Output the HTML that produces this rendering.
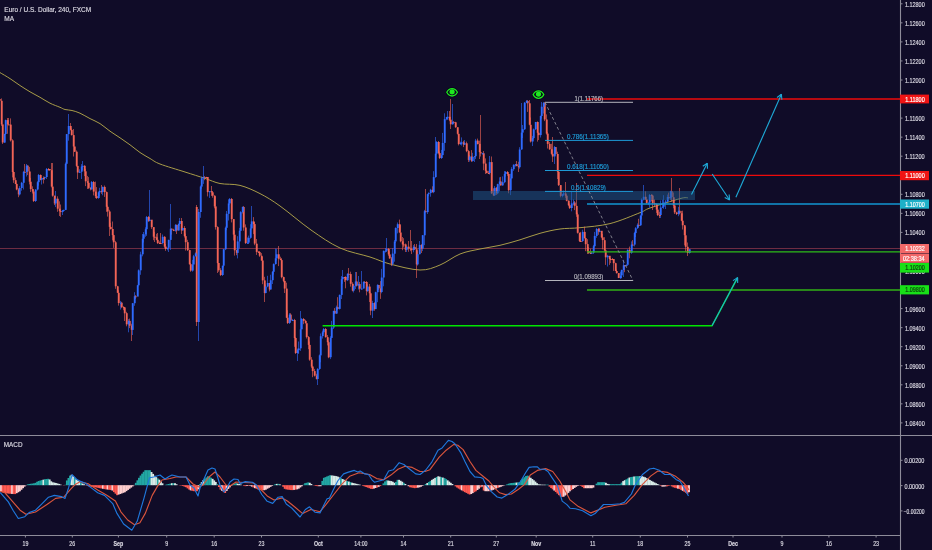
<!DOCTYPE html>
<html><head><meta charset="utf-8"><style>html,body{margin:0;padding:0;background:#100c28;overflow:hidden;width:932px;height:550px}svg{display:block;will-change:transform}</style></head>
<body><svg width="932" height="550" viewBox="0 0 932 550"><rect x="0" y="0" width="932" height="550" fill="#100c28"/>
<line x1="0" y1="248.5" x2="900" y2="248.5" stroke="#6e2c42" stroke-width="1"/>
<path fill="none" stroke="#a89c48" stroke-width="1" d="M0,72.6 C1.67,73.60 6.67,76.45 10,78.6 C13.33,80.75 16.67,83.30 20,85.5 C23.33,87.70 26.67,89.83 30,91.8 C33.33,93.77 36.67,95.40 40,97.3 C43.33,99.20 46.67,101.53 50,103.2 C53.33,104.87 57.50,106.25 60,107.3 C62.50,108.35 63.00,108.97 65,109.5 C67.00,110.03 69.50,109.88 72,110.5 C74.50,111.12 77.00,111.85 80,113.2 C83.00,114.55 86.67,116.87 90,118.6 C93.33,120.33 96.67,121.50 100,123.6 C103.33,125.70 106.67,128.83 110,131.2 C113.33,133.57 116.67,135.53 120,137.8 C123.33,140.07 126.67,142.35 130,144.8 C133.33,147.25 136.67,150.22 140,152.5 C143.33,154.78 146.67,156.58 150,158.5 C153.33,160.42 154.17,161.75 160,164 C165.83,166.25 177.50,169.60 185,172 C192.50,174.40 199.17,176.48 205,178.4 C210.83,180.32 214.17,182.33 220,183.5 C225.83,184.67 233.33,183.72 240,185.4 C246.67,187.08 253.33,190.17 260,193.6 C266.67,197.03 271.50,199.93 280,206 C288.50,212.07 301.00,223.00 311,230 C321.00,237.00 330.17,243.50 340,248 C349.83,252.50 361.67,254.33 370,257 C378.33,259.67 381.67,261.83 390,264 C398.33,266.17 411.67,269.83 420,270 C428.33,270.17 433.33,267.67 440,265 C446.67,262.33 453.33,256.67 460,254 C466.67,251.33 473.33,250.45 480,249 C486.67,247.55 493.33,246.83 500,245.3 C506.67,243.77 513.33,241.80 520,239.8 C526.67,237.80 533.33,235.10 540,233.3 C546.67,231.50 553.33,229.93 560,229 C566.67,228.07 571.67,228.60 580,227.7 C588.33,226.80 600.00,226.10 610,223.6 C620.00,221.10 633.33,215.30 640,212.7 C646.67,210.10 643.33,210.35 650,208 C656.67,205.65 673.67,200.30 680,198.6 C686.33,196.90 686.67,197.93 688,197.8"/>
<line x1="-0.5" y1="98.0" x2="-0.5" y2="101.1" stroke="#f26456" stroke-opacity="0.62" stroke-width="1"/>
<line x1="1.5" y1="98.4" x2="1.5" y2="125.9" stroke="#f26456" stroke-opacity="0.62" stroke-width="1"/>
<line x1="2.5" y1="124.3" x2="2.5" y2="144.0" stroke="#f26456" stroke-opacity="0.62" stroke-width="1"/>
<line x1="4.5" y1="133.7" x2="4.5" y2="142.8" stroke="#2f6bff" stroke-opacity="0.62" stroke-width="1"/>
<line x1="5.5" y1="119.6" x2="5.5" y2="134.8" stroke="#2f6bff" stroke-opacity="0.62" stroke-width="1"/>
<line x1="7.5" y1="118.0" x2="7.5" y2="133.8" stroke="#f26456" stroke-opacity="0.62" stroke-width="1"/>
<line x1="8.5" y1="118.0" x2="8.5" y2="124.8" stroke="#f26456" stroke-opacity="0.62" stroke-width="1"/>
<line x1="10.5" y1="118.4" x2="10.5" y2="141.5" stroke="#f26456" stroke-opacity="0.62" stroke-width="1"/>
<line x1="12.5" y1="139.2" x2="12.5" y2="177.4" stroke="#f26456" stroke-opacity="0.62" stroke-width="1"/>
<line x1="13.5" y1="171.3" x2="13.5" y2="182.9" stroke="#f26456" stroke-opacity="0.62" stroke-width="1"/>
<line x1="15.5" y1="177.6" x2="15.5" y2="184.1" stroke="#f26456" stroke-opacity="0.62" stroke-width="1"/>
<line x1="16.5" y1="183.7" x2="16.5" y2="190.3" stroke="#f26456" stroke-opacity="0.62" stroke-width="1"/>
<line x1="18.5" y1="188.3" x2="18.5" y2="197.2" stroke="#f26456" stroke-opacity="0.62" stroke-width="1"/>
<line x1="19.5" y1="186.1" x2="19.5" y2="195.5" stroke="#2f6bff" stroke-opacity="0.62" stroke-width="1"/>
<line x1="21.5" y1="181.9" x2="21.5" y2="190.7" stroke="#2f6bff" stroke-opacity="0.62" stroke-width="1"/>
<line x1="23.5" y1="170.9" x2="23.5" y2="189.5" stroke="#2f6bff" stroke-opacity="0.62" stroke-width="1"/>
<line x1="24.5" y1="164.0" x2="24.5" y2="172.4" stroke="#f26456" stroke-opacity="0.62" stroke-width="1"/>
<line x1="26.5" y1="164.0" x2="26.5" y2="176.5" stroke="#2f6bff" stroke-opacity="0.62" stroke-width="1"/>
<line x1="27.5" y1="165.5" x2="27.5" y2="175.1" stroke="#f26456" stroke-opacity="0.62" stroke-width="1"/>
<line x1="29.5" y1="166.9" x2="29.5" y2="184.4" stroke="#f26456" stroke-opacity="0.62" stroke-width="1"/>
<line x1="30.5" y1="177.9" x2="30.5" y2="192.0" stroke="#f26456" stroke-opacity="0.62" stroke-width="1"/>
<line x1="32.5" y1="186.3" x2="32.5" y2="193.5" stroke="#f26456" stroke-opacity="0.62" stroke-width="1"/>
<line x1="33.5" y1="189.5" x2="33.5" y2="202.0" stroke="#f26456" stroke-opacity="0.62" stroke-width="1"/>
<line x1="35.5" y1="189.3" x2="35.5" y2="202.0" stroke="#2f6bff" stroke-opacity="0.62" stroke-width="1"/>
<line x1="37.5" y1="181.2" x2="37.5" y2="190.5" stroke="#2f6bff" stroke-opacity="0.62" stroke-width="1"/>
<line x1="38.5" y1="174.0" x2="38.5" y2="185.7" stroke="#2f6bff" stroke-opacity="0.62" stroke-width="1"/>
<line x1="40.5" y1="174.4" x2="40.5" y2="180.3" stroke="#f26456" stroke-opacity="0.62" stroke-width="1"/>
<line x1="41.5" y1="177.8" x2="41.5" y2="184.5" stroke="#2f6bff" stroke-opacity="0.62" stroke-width="1"/>
<line x1="43.5" y1="176.4" x2="43.5" y2="183.5" stroke="#f26456" stroke-opacity="0.62" stroke-width="1"/>
<line x1="44.5" y1="176.7" x2="44.5" y2="180.0" stroke="#2f6bff" stroke-opacity="0.62" stroke-width="1"/>
<line x1="46.5" y1="168.0" x2="46.5" y2="179.0" stroke="#2f6bff" stroke-opacity="0.62" stroke-width="1"/>
<line x1="48.5" y1="168.0" x2="48.5" y2="170.7" stroke="#f26456" stroke-opacity="0.62" stroke-width="1"/>
<line x1="49.5" y1="169.2" x2="49.5" y2="170.8" stroke="#f26456" stroke-opacity="0.62" stroke-width="1"/>
<line x1="51.5" y1="163.0" x2="51.5" y2="187.4" stroke="#f26456" stroke-opacity="0.62" stroke-width="1"/>
<line x1="52.5" y1="163.0" x2="52.5" y2="196.7" stroke="#f26456" stroke-opacity="0.62" stroke-width="1"/>
<line x1="54.5" y1="195.7" x2="54.5" y2="205.1" stroke="#f26456" stroke-opacity="0.62" stroke-width="1"/>
<line x1="55.5" y1="191.0" x2="55.5" y2="207.1" stroke="#2f6bff" stroke-opacity="0.62" stroke-width="1"/>
<line x1="57.5" y1="196.3" x2="57.5" y2="211.8" stroke="#f26456" stroke-opacity="0.62" stroke-width="1"/>
<line x1="59.5" y1="201.3" x2="59.5" y2="216.0" stroke="#f26456" stroke-opacity="0.62" stroke-width="1"/>
<line x1="60.5" y1="204.5" x2="60.5" y2="216.9" stroke="#f26456" stroke-opacity="0.62" stroke-width="1"/>
<line x1="62.5" y1="210.0" x2="62.5" y2="215.0" stroke="#2f6bff" stroke-opacity="0.62" stroke-width="1"/>
<line x1="63.5" y1="209.7" x2="63.5" y2="210.6" stroke="#2f6bff" stroke-opacity="0.62" stroke-width="1"/>
<line x1="65.5" y1="162.5" x2="65.5" y2="210.1" stroke="#2f6bff" stroke-opacity="0.62" stroke-width="1"/>
<line x1="66.5" y1="134.1" x2="66.5" y2="164.3" stroke="#2f6bff" stroke-opacity="0.62" stroke-width="1"/>
<line x1="68.5" y1="114.0" x2="68.5" y2="140.7" stroke="#2f6bff" stroke-opacity="0.62" stroke-width="1"/>
<line x1="70.5" y1="123.0" x2="70.5" y2="130.4" stroke="#f26456" stroke-opacity="0.62" stroke-width="1"/>
<line x1="71.5" y1="128.5" x2="71.5" y2="135.5" stroke="#f26456" stroke-opacity="0.62" stroke-width="1"/>
<line x1="73.5" y1="129.0" x2="73.5" y2="156.5" stroke="#f26456" stroke-opacity="0.62" stroke-width="1"/>
<line x1="74.5" y1="146.2" x2="74.5" y2="152.0" stroke="#f26456" stroke-opacity="0.62" stroke-width="1"/>
<line x1="76.5" y1="150.4" x2="76.5" y2="166.8" stroke="#f26456" stroke-opacity="0.62" stroke-width="1"/>
<line x1="77.5" y1="165.8" x2="77.5" y2="179.0" stroke="#f26456" stroke-opacity="0.62" stroke-width="1"/>
<line x1="79.5" y1="169.3" x2="79.5" y2="172.9" stroke="#2f6bff" stroke-opacity="0.62" stroke-width="1"/>
<line x1="81.5" y1="164.1" x2="81.5" y2="179.0" stroke="#2f6bff" stroke-opacity="0.62" stroke-width="1"/>
<line x1="82.5" y1="161.0" x2="82.5" y2="170.3" stroke="#2f6bff" stroke-opacity="0.62" stroke-width="1"/>
<line x1="84.5" y1="165.2" x2="84.5" y2="176.1" stroke="#f26456" stroke-opacity="0.62" stroke-width="1"/>
<line x1="85.5" y1="168.9" x2="85.5" y2="186.1" stroke="#f26456" stroke-opacity="0.62" stroke-width="1"/>
<line x1="87.5" y1="175.9" x2="87.5" y2="189.0" stroke="#f26456" stroke-opacity="0.62" stroke-width="1"/>
<line x1="88.5" y1="177.1" x2="88.5" y2="189.0" stroke="#f26456" stroke-opacity="0.62" stroke-width="1"/>
<line x1="90.5" y1="187.1" x2="90.5" y2="190.4" stroke="#f26456" stroke-opacity="0.62" stroke-width="1"/>
<line x1="91.5" y1="181.0" x2="91.5" y2="189.4" stroke="#2f6bff" stroke-opacity="0.62" stroke-width="1"/>
<line x1="93.5" y1="181.0" x2="93.5" y2="195.4" stroke="#f26456" stroke-opacity="0.62" stroke-width="1"/>
<line x1="95.5" y1="181.6" x2="95.5" y2="198.1" stroke="#f26456" stroke-opacity="0.62" stroke-width="1"/>
<line x1="96.5" y1="187.1" x2="96.5" y2="199.0" stroke="#f26456" stroke-opacity="0.62" stroke-width="1"/>
<line x1="98.5" y1="191.5" x2="98.5" y2="198.8" stroke="#2f6bff" stroke-opacity="0.62" stroke-width="1"/>
<line x1="99.5" y1="187.8" x2="99.5" y2="196.2" stroke="#2f6bff" stroke-opacity="0.62" stroke-width="1"/>
<line x1="101.5" y1="185.0" x2="101.5" y2="193.9" stroke="#f26456" stroke-opacity="0.62" stroke-width="1"/>
<line x1="102.5" y1="186.6" x2="102.5" y2="195.3" stroke="#2f6bff" stroke-opacity="0.62" stroke-width="1"/>
<line x1="104.5" y1="185.5" x2="104.5" y2="196.9" stroke="#f26456" stroke-opacity="0.62" stroke-width="1"/>
<line x1="106.5" y1="191.4" x2="106.5" y2="211.8" stroke="#f26456" stroke-opacity="0.62" stroke-width="1"/>
<line x1="107.5" y1="205.5" x2="107.5" y2="216.6" stroke="#f26456" stroke-opacity="0.62" stroke-width="1"/>
<line x1="109.5" y1="209.8" x2="109.5" y2="236.0" stroke="#f26456" stroke-opacity="0.62" stroke-width="1"/>
<line x1="110.5" y1="222.8" x2="110.5" y2="229.6" stroke="#f26456" stroke-opacity="0.62" stroke-width="1"/>
<line x1="112.5" y1="221.5" x2="112.5" y2="240.4" stroke="#f26456" stroke-opacity="0.62" stroke-width="1"/>
<line x1="113.5" y1="234.6" x2="113.5" y2="247.9" stroke="#f26456" stroke-opacity="0.62" stroke-width="1"/>
<line x1="115.5" y1="240.9" x2="115.5" y2="288.8" stroke="#f26456" stroke-opacity="0.62" stroke-width="1"/>
<line x1="117.5" y1="285.8" x2="117.5" y2="292.9" stroke="#f26456" stroke-opacity="0.62" stroke-width="1"/>
<line x1="118.5" y1="290.4" x2="118.5" y2="305.6" stroke="#f26456" stroke-opacity="0.62" stroke-width="1"/>
<line x1="120.5" y1="300.9" x2="120.5" y2="309.6" stroke="#2f6bff" stroke-opacity="0.62" stroke-width="1"/>
<line x1="121.5" y1="301.8" x2="121.5" y2="308.2" stroke="#f26456" stroke-opacity="0.62" stroke-width="1"/>
<line x1="123.5" y1="306.2" x2="123.5" y2="310.2" stroke="#f26456" stroke-opacity="0.62" stroke-width="1"/>
<line x1="124.5" y1="306.9" x2="124.5" y2="321.0" stroke="#f26456" stroke-opacity="0.62" stroke-width="1"/>
<line x1="126.5" y1="311.8" x2="126.5" y2="326.3" stroke="#f26456" stroke-opacity="0.62" stroke-width="1"/>
<line x1="128.5" y1="319.1" x2="128.5" y2="332.3" stroke="#2f6bff" stroke-opacity="0.62" stroke-width="1"/>
<line x1="129.5" y1="318.6" x2="129.5" y2="328.1" stroke="#f26456" stroke-opacity="0.62" stroke-width="1"/>
<line x1="131.5" y1="323.8" x2="131.5" y2="341.0" stroke="#f26456" stroke-opacity="0.62" stroke-width="1"/>
<line x1="132.5" y1="303.2" x2="132.5" y2="335.0" stroke="#2f6bff" stroke-opacity="0.62" stroke-width="1"/>
<line x1="134.5" y1="292.2" x2="134.5" y2="305.8" stroke="#2f6bff" stroke-opacity="0.62" stroke-width="1"/>
<line x1="135.5" y1="295.1" x2="135.5" y2="298.9" stroke="#f26456" stroke-opacity="0.62" stroke-width="1"/>
<line x1="137.5" y1="284.9" x2="137.5" y2="296.0" stroke="#2f6bff" stroke-opacity="0.62" stroke-width="1"/>
<line x1="138.5" y1="269.4" x2="138.5" y2="286.3" stroke="#2f6bff" stroke-opacity="0.62" stroke-width="1"/>
<line x1="140.5" y1="251.7" x2="140.5" y2="274.8" stroke="#2f6bff" stroke-opacity="0.62" stroke-width="1"/>
<line x1="142.5" y1="234.0" x2="142.5" y2="256.3" stroke="#2f6bff" stroke-opacity="0.62" stroke-width="1"/>
<line x1="143.5" y1="232.0" x2="143.5" y2="242.5" stroke="#2f6bff" stroke-opacity="0.62" stroke-width="1"/>
<line x1="145.5" y1="227.3" x2="145.5" y2="236.8" stroke="#2f6bff" stroke-opacity="0.62" stroke-width="1"/>
<line x1="146.5" y1="216.0" x2="146.5" y2="235.9" stroke="#2f6bff" stroke-opacity="0.62" stroke-width="1"/>
<line x1="148.5" y1="216.0" x2="148.5" y2="221.9" stroke="#f26456" stroke-opacity="0.62" stroke-width="1"/>
<line x1="149.5" y1="190.0" x2="149.5" y2="221.4" stroke="#2f6bff" stroke-opacity="0.62" stroke-width="1"/>
<line x1="151.5" y1="226.1" x2="151.5" y2="228.9" stroke="#f26456" stroke-opacity="0.62" stroke-width="1"/>
<line x1="153.5" y1="228.0" x2="153.5" y2="240.2" stroke="#f26456" stroke-opacity="0.62" stroke-width="1"/>
<line x1="154.5" y1="231.8" x2="154.5" y2="242.0" stroke="#f26456" stroke-opacity="0.62" stroke-width="1"/>
<line x1="156.5" y1="233.8" x2="156.5" y2="240.3" stroke="#f26456" stroke-opacity="0.62" stroke-width="1"/>
<line x1="157.5" y1="233.0" x2="157.5" y2="244.0" stroke="#f26456" stroke-opacity="0.62" stroke-width="1"/>
<line x1="159.5" y1="241.4" x2="159.5" y2="244.0" stroke="#f26456" stroke-opacity="0.62" stroke-width="1"/>
<line x1="160.5" y1="233.0" x2="160.5" y2="244.0" stroke="#f26456" stroke-opacity="0.62" stroke-width="1"/>
<line x1="162.5" y1="234.5" x2="162.5" y2="244.3" stroke="#2f6bff" stroke-opacity="0.62" stroke-width="1"/>
<line x1="164.5" y1="236.1" x2="164.5" y2="247.8" stroke="#f26456" stroke-opacity="0.62" stroke-width="1"/>
<line x1="165.5" y1="244.0" x2="165.5" y2="250.9" stroke="#f26456" stroke-opacity="0.62" stroke-width="1"/>
<line x1="167.5" y1="247.8" x2="167.5" y2="250.3" stroke="#2f6bff" stroke-opacity="0.62" stroke-width="1"/>
<line x1="168.5" y1="239.7" x2="168.5" y2="252.0" stroke="#2f6bff" stroke-opacity="0.62" stroke-width="1"/>
<line x1="170.5" y1="204.0" x2="170.5" y2="249.9" stroke="#2f6bff" stroke-opacity="0.62" stroke-width="1"/>
<line x1="171.5" y1="228.6" x2="171.5" y2="234.6" stroke="#f26456" stroke-opacity="0.62" stroke-width="1"/>
<line x1="173.5" y1="228.8" x2="173.5" y2="231.1" stroke="#f26456" stroke-opacity="0.62" stroke-width="1"/>
<line x1="175.5" y1="224.0" x2="175.5" y2="231.7" stroke="#2f6bff" stroke-opacity="0.62" stroke-width="1"/>
<line x1="176.5" y1="224.5" x2="176.5" y2="234.0" stroke="#f26456" stroke-opacity="0.62" stroke-width="1"/>
<line x1="178.5" y1="223.6" x2="178.5" y2="230.7" stroke="#2f6bff" stroke-opacity="0.62" stroke-width="1"/>
<line x1="179.5" y1="218.0" x2="179.5" y2="225.7" stroke="#2f6bff" stroke-opacity="0.62" stroke-width="1"/>
<line x1="181.5" y1="218.0" x2="181.5" y2="234.0" stroke="#f26456" stroke-opacity="0.62" stroke-width="1"/>
<line x1="182.5" y1="227.7" x2="182.5" y2="229.0" stroke="#2f6bff" stroke-opacity="0.62" stroke-width="1"/>
<line x1="184.5" y1="226.1" x2="184.5" y2="237.5" stroke="#f26456" stroke-opacity="0.62" stroke-width="1"/>
<line x1="185.5" y1="233.6" x2="185.5" y2="250.6" stroke="#f26456" stroke-opacity="0.62" stroke-width="1"/>
<line x1="187.5" y1="239.8" x2="187.5" y2="251.0" stroke="#f26456" stroke-opacity="0.62" stroke-width="1"/>
<line x1="189.5" y1="249.7" x2="189.5" y2="264.7" stroke="#f26456" stroke-opacity="0.62" stroke-width="1"/>
<line x1="190.5" y1="263.0" x2="190.5" y2="271.8" stroke="#f26456" stroke-opacity="0.62" stroke-width="1"/>
<line x1="192.5" y1="259.9" x2="192.5" y2="271.7" stroke="#2f6bff" stroke-opacity="0.62" stroke-width="1"/>
<line x1="193.5" y1="254.9" x2="193.5" y2="264.5" stroke="#2f6bff" stroke-opacity="0.62" stroke-width="1"/>
<line x1="195.5" y1="252.4" x2="195.5" y2="256.3" stroke="#2f6bff" stroke-opacity="0.62" stroke-width="1"/>
<line x1="196.5" y1="205.0" x2="196.5" y2="326.0" stroke="#f26456" stroke-opacity="0.62" stroke-width="1"/>
<line x1="198.5" y1="209.0" x2="198.5" y2="341.0" stroke="#2f6bff" stroke-opacity="0.62" stroke-width="1"/>
<line x1="200.5" y1="185.5" x2="200.5" y2="217.8" stroke="#2f6bff" stroke-opacity="0.62" stroke-width="1"/>
<line x1="201.5" y1="176.6" x2="201.5" y2="188.8" stroke="#2f6bff" stroke-opacity="0.62" stroke-width="1"/>
<line x1="203.5" y1="166.0" x2="203.5" y2="183.9" stroke="#2f6bff" stroke-opacity="0.62" stroke-width="1"/>
<line x1="204.5" y1="176.0" x2="204.5" y2="180.2" stroke="#f26456" stroke-opacity="0.62" stroke-width="1"/>
<line x1="206.5" y1="176.8" x2="206.5" y2="177.4" stroke="#f26456" stroke-opacity="0.62" stroke-width="1"/>
<line x1="207.5" y1="180.8" x2="207.5" y2="196.4" stroke="#f26456" stroke-opacity="0.62" stroke-width="1"/>
<line x1="209.5" y1="191.0" x2="209.5" y2="197.9" stroke="#2f6bff" stroke-opacity="0.62" stroke-width="1"/>
<line x1="211.5" y1="186.0" x2="211.5" y2="195.9" stroke="#f26456" stroke-opacity="0.62" stroke-width="1"/>
<line x1="212.5" y1="191.2" x2="212.5" y2="197.7" stroke="#f26456" stroke-opacity="0.62" stroke-width="1"/>
<line x1="214.5" y1="195.2" x2="214.5" y2="208.3" stroke="#f26456" stroke-opacity="0.62" stroke-width="1"/>
<line x1="215.5" y1="196.4" x2="215.5" y2="229.6" stroke="#f26456" stroke-opacity="0.62" stroke-width="1"/>
<line x1="217.5" y1="226.2" x2="217.5" y2="273.0" stroke="#f26456" stroke-opacity="0.62" stroke-width="1"/>
<line x1="218.5" y1="263.0" x2="218.5" y2="271.8" stroke="#f26456" stroke-opacity="0.62" stroke-width="1"/>
<line x1="220.5" y1="268.2" x2="220.5" y2="276.0" stroke="#f26456" stroke-opacity="0.62" stroke-width="1"/>
<line x1="222.5" y1="265.7" x2="222.5" y2="276.0" stroke="#2f6bff" stroke-opacity="0.62" stroke-width="1"/>
<line x1="223.5" y1="248.9" x2="223.5" y2="267.4" stroke="#2f6bff" stroke-opacity="0.62" stroke-width="1"/>
<line x1="225.5" y1="226.6" x2="225.5" y2="250.1" stroke="#2f6bff" stroke-opacity="0.62" stroke-width="1"/>
<line x1="226.5" y1="211.0" x2="226.5" y2="230.2" stroke="#2f6bff" stroke-opacity="0.62" stroke-width="1"/>
<line x1="228.5" y1="199.4" x2="228.5" y2="220.5" stroke="#2f6bff" stroke-opacity="0.62" stroke-width="1"/>
<line x1="229.5" y1="198.0" x2="229.5" y2="204.7" stroke="#2f6bff" stroke-opacity="0.62" stroke-width="1"/>
<line x1="231.5" y1="198.0" x2="231.5" y2="222.4" stroke="#f26456" stroke-opacity="0.62" stroke-width="1"/>
<line x1="233.5" y1="219.0" x2="233.5" y2="240.4" stroke="#f26456" stroke-opacity="0.62" stroke-width="1"/>
<line x1="234.5" y1="230.4" x2="234.5" y2="255.6" stroke="#f26456" stroke-opacity="0.62" stroke-width="1"/>
<line x1="236.5" y1="249.8" x2="236.5" y2="255.2" stroke="#f26456" stroke-opacity="0.62" stroke-width="1"/>
<line x1="237.5" y1="236.2" x2="237.5" y2="258.4" stroke="#2f6bff" stroke-opacity="0.62" stroke-width="1"/>
<line x1="239.5" y1="227.9" x2="239.5" y2="248.5" stroke="#2f6bff" stroke-opacity="0.62" stroke-width="1"/>
<line x1="240.5" y1="211.2" x2="240.5" y2="230.8" stroke="#2f6bff" stroke-opacity="0.62" stroke-width="1"/>
<line x1="242.5" y1="206.5" x2="242.5" y2="213.5" stroke="#2f6bff" stroke-opacity="0.62" stroke-width="1"/>
<line x1="243.5" y1="206.0" x2="243.5" y2="230.7" stroke="#f26456" stroke-opacity="0.62" stroke-width="1"/>
<line x1="245.5" y1="224.4" x2="245.5" y2="244.0" stroke="#f26456" stroke-opacity="0.62" stroke-width="1"/>
<line x1="247.5" y1="237.5" x2="247.5" y2="244.0" stroke="#2f6bff" stroke-opacity="0.62" stroke-width="1"/>
<line x1="248.5" y1="235.6" x2="248.5" y2="244.0" stroke="#2f6bff" stroke-opacity="0.62" stroke-width="1"/>
<line x1="250.5" y1="224.2" x2="250.5" y2="238.8" stroke="#2f6bff" stroke-opacity="0.62" stroke-width="1"/>
<line x1="251.5" y1="206.0" x2="251.5" y2="229.4" stroke="#2f6bff" stroke-opacity="0.62" stroke-width="1"/>
<line x1="253.5" y1="217.1" x2="253.5" y2="234.1" stroke="#f26456" stroke-opacity="0.62" stroke-width="1"/>
<line x1="254.5" y1="222.0" x2="254.5" y2="245.2" stroke="#f26456" stroke-opacity="0.62" stroke-width="1"/>
<line x1="256.5" y1="239.0" x2="256.5" y2="254.9" stroke="#f26456" stroke-opacity="0.62" stroke-width="1"/>
<line x1="258.5" y1="251.0" x2="258.5" y2="252.4" stroke="#f26456" stroke-opacity="0.62" stroke-width="1"/>
<line x1="259.5" y1="251.0" x2="259.5" y2="256.9" stroke="#f26456" stroke-opacity="0.62" stroke-width="1"/>
<line x1="261.5" y1="253.1" x2="261.5" y2="260.6" stroke="#f26456" stroke-opacity="0.62" stroke-width="1"/>
<line x1="262.5" y1="257.0" x2="262.5" y2="284.2" stroke="#f26456" stroke-opacity="0.62" stroke-width="1"/>
<line x1="264.5" y1="276.8" x2="264.5" y2="302.0" stroke="#f26456" stroke-opacity="0.62" stroke-width="1"/>
<line x1="265.5" y1="284.5" x2="265.5" y2="293.4" stroke="#2f6bff" stroke-opacity="0.62" stroke-width="1"/>
<line x1="267.5" y1="275.8" x2="267.5" y2="287.3" stroke="#2f6bff" stroke-opacity="0.62" stroke-width="1"/>
<line x1="269.5" y1="282.9" x2="269.5" y2="291.4" stroke="#f26456" stroke-opacity="0.62" stroke-width="1"/>
<line x1="270.5" y1="274.7" x2="270.5" y2="285.3" stroke="#2f6bff" stroke-opacity="0.62" stroke-width="1"/>
<line x1="272.5" y1="271.0" x2="272.5" y2="284.0" stroke="#2f6bff" stroke-opacity="0.62" stroke-width="1"/>
<line x1="273.5" y1="263.4" x2="273.5" y2="274.6" stroke="#2f6bff" stroke-opacity="0.62" stroke-width="1"/>
<line x1="275.5" y1="248.5" x2="275.5" y2="264.6" stroke="#2f6bff" stroke-opacity="0.62" stroke-width="1"/>
<line x1="276.5" y1="248.8" x2="276.5" y2="260.5" stroke="#2f6bff" stroke-opacity="0.62" stroke-width="1"/>
<line x1="278.5" y1="246.0" x2="278.5" y2="266.1" stroke="#f26456" stroke-opacity="0.62" stroke-width="1"/>
<line x1="280.5" y1="256.7" x2="280.5" y2="260.2" stroke="#f26456" stroke-opacity="0.62" stroke-width="1"/>
<line x1="281.5" y1="258.2" x2="281.5" y2="278.3" stroke="#f26456" stroke-opacity="0.62" stroke-width="1"/>
<line x1="283.5" y1="276.6" x2="283.5" y2="282.2" stroke="#f26456" stroke-opacity="0.62" stroke-width="1"/>
<line x1="284.5" y1="280.9" x2="284.5" y2="293.0" stroke="#f26456" stroke-opacity="0.62" stroke-width="1"/>
<line x1="286.5" y1="282.7" x2="286.5" y2="318.1" stroke="#f26456" stroke-opacity="0.62" stroke-width="1"/>
<line x1="287.5" y1="310.3" x2="287.5" y2="324.0" stroke="#f26456" stroke-opacity="0.62" stroke-width="1"/>
<line x1="289.5" y1="313.1" x2="289.5" y2="324.0" stroke="#2f6bff" stroke-opacity="0.62" stroke-width="1"/>
<line x1="290.5" y1="313.2" x2="290.5" y2="322.0" stroke="#f26456" stroke-opacity="0.62" stroke-width="1"/>
<line x1="292.5" y1="318.9" x2="292.5" y2="320.6" stroke="#2f6bff" stroke-opacity="0.62" stroke-width="1"/>
<line x1="294.5" y1="318.9" x2="294.5" y2="346.8" stroke="#f26456" stroke-opacity="0.62" stroke-width="1"/>
<line x1="295.5" y1="337.1" x2="295.5" y2="354.0" stroke="#f26456" stroke-opacity="0.62" stroke-width="1"/>
<line x1="297.5" y1="348.7" x2="297.5" y2="361.0" stroke="#2f6bff" stroke-opacity="0.62" stroke-width="1"/>
<line x1="298.5" y1="341.5" x2="298.5" y2="354.0" stroke="#2f6bff" stroke-opacity="0.62" stroke-width="1"/>
<line x1="300.5" y1="311.0" x2="300.5" y2="350.9" stroke="#2f6bff" stroke-opacity="0.62" stroke-width="1"/>
<line x1="301.5" y1="318.0" x2="301.5" y2="329.5" stroke="#2f6bff" stroke-opacity="0.62" stroke-width="1"/>
<line x1="303.5" y1="318.0" x2="303.5" y2="324.2" stroke="#f26456" stroke-opacity="0.62" stroke-width="1"/>
<line x1="305.5" y1="319.8" x2="305.5" y2="323.4" stroke="#f26456" stroke-opacity="0.62" stroke-width="1"/>
<line x1="306.5" y1="325.1" x2="306.5" y2="338.5" stroke="#f26456" stroke-opacity="0.62" stroke-width="1"/>
<line x1="308.5" y1="336.0" x2="308.5" y2="349.2" stroke="#f26456" stroke-opacity="0.62" stroke-width="1"/>
<line x1="309.5" y1="341.5" x2="309.5" y2="360.8" stroke="#f26456" stroke-opacity="0.62" stroke-width="1"/>
<line x1="311.5" y1="357.1" x2="311.5" y2="368.1" stroke="#f26456" stroke-opacity="0.62" stroke-width="1"/>
<line x1="312.5" y1="365.8" x2="312.5" y2="377.2" stroke="#f26456" stroke-opacity="0.62" stroke-width="1"/>
<line x1="314.5" y1="368.9" x2="314.5" y2="376.5" stroke="#f26456" stroke-opacity="0.62" stroke-width="1"/>
<line x1="316.5" y1="373.8" x2="316.5" y2="379.5" stroke="#f26456" stroke-opacity="0.62" stroke-width="1"/>
<line x1="317.5" y1="368.2" x2="317.5" y2="385.0" stroke="#2f6bff" stroke-opacity="0.62" stroke-width="1"/>
<line x1="319.5" y1="354.5" x2="319.5" y2="369.9" stroke="#2f6bff" stroke-opacity="0.62" stroke-width="1"/>
<line x1="320.5" y1="333.5" x2="320.5" y2="362.3" stroke="#2f6bff" stroke-opacity="0.62" stroke-width="1"/>
<line x1="322.5" y1="330.6" x2="322.5" y2="338.5" stroke="#2f6bff" stroke-opacity="0.62" stroke-width="1"/>
<line x1="323.5" y1="328.0" x2="323.5" y2="333.6" stroke="#2f6bff" stroke-opacity="0.62" stroke-width="1"/>
<line x1="325.5" y1="328.0" x2="325.5" y2="337.6" stroke="#f26456" stroke-opacity="0.62" stroke-width="1"/>
<line x1="327.5" y1="335.0" x2="327.5" y2="345.4" stroke="#f26456" stroke-opacity="0.62" stroke-width="1"/>
<line x1="328.5" y1="341.2" x2="328.5" y2="358.2" stroke="#f26456" stroke-opacity="0.62" stroke-width="1"/>
<line x1="330.5" y1="336.2" x2="330.5" y2="359.1" stroke="#2f6bff" stroke-opacity="0.62" stroke-width="1"/>
<line x1="331.5" y1="320.9" x2="331.5" y2="337.9" stroke="#2f6bff" stroke-opacity="0.62" stroke-width="1"/>
<line x1="333.5" y1="310.8" x2="333.5" y2="329.0" stroke="#2f6bff" stroke-opacity="0.62" stroke-width="1"/>
<line x1="334.5" y1="308.1" x2="334.5" y2="313.6" stroke="#f26456" stroke-opacity="0.62" stroke-width="1"/>
<line x1="336.5" y1="305.6" x2="336.5" y2="314.0" stroke="#2f6bff" stroke-opacity="0.62" stroke-width="1"/>
<line x1="337.5" y1="297.2" x2="337.5" y2="309.8" stroke="#f26456" stroke-opacity="0.62" stroke-width="1"/>
<line x1="339.5" y1="294.5" x2="339.5" y2="309.5" stroke="#2f6bff" stroke-opacity="0.62" stroke-width="1"/>
<line x1="341.5" y1="276.0" x2="341.5" y2="299.0" stroke="#2f6bff" stroke-opacity="0.62" stroke-width="1"/>
<line x1="342.5" y1="270.0" x2="342.5" y2="283.8" stroke="#2f6bff" stroke-opacity="0.62" stroke-width="1"/>
<line x1="344.5" y1="276.9" x2="344.5" y2="281.9" stroke="#f26456" stroke-opacity="0.62" stroke-width="1"/>
<line x1="345.5" y1="276.2" x2="345.5" y2="288.3" stroke="#f26456" stroke-opacity="0.62" stroke-width="1"/>
<line x1="347.5" y1="273.3" x2="347.5" y2="281.1" stroke="#2f6bff" stroke-opacity="0.62" stroke-width="1"/>
<line x1="348.5" y1="268.0" x2="348.5" y2="277.9" stroke="#f26456" stroke-opacity="0.62" stroke-width="1"/>
<line x1="350.5" y1="271.7" x2="350.5" y2="286.6" stroke="#f26456" stroke-opacity="0.62" stroke-width="1"/>
<line x1="352.5" y1="282.2" x2="352.5" y2="291.4" stroke="#f26456" stroke-opacity="0.62" stroke-width="1"/>
<line x1="353.5" y1="284.5" x2="353.5" y2="292.5" stroke="#2f6bff" stroke-opacity="0.62" stroke-width="1"/>
<line x1="355.5" y1="272.0" x2="355.5" y2="289.0" stroke="#2f6bff" stroke-opacity="0.62" stroke-width="1"/>
<line x1="356.5" y1="272.0" x2="356.5" y2="286.5" stroke="#f26456" stroke-opacity="0.62" stroke-width="1"/>
<line x1="358.5" y1="276.0" x2="358.5" y2="289.5" stroke="#2f6bff" stroke-opacity="0.62" stroke-width="1"/>
<line x1="359.5" y1="281.9" x2="359.5" y2="292.3" stroke="#f26456" stroke-opacity="0.62" stroke-width="1"/>
<line x1="361.5" y1="271.0" x2="361.5" y2="289.6" stroke="#2f6bff" stroke-opacity="0.62" stroke-width="1"/>
<line x1="363.5" y1="281.2" x2="363.5" y2="288.6" stroke="#2f6bff" stroke-opacity="0.62" stroke-width="1"/>
<line x1="364.5" y1="281.0" x2="364.5" y2="283.7" stroke="#f26456" stroke-opacity="0.62" stroke-width="1"/>
<line x1="366.5" y1="281.0" x2="366.5" y2="295.4" stroke="#f26456" stroke-opacity="0.62" stroke-width="1"/>
<line x1="367.5" y1="284.3" x2="367.5" y2="291.8" stroke="#2f6bff" stroke-opacity="0.62" stroke-width="1"/>
<line x1="369.5" y1="284.0" x2="369.5" y2="302.0" stroke="#f26456" stroke-opacity="0.62" stroke-width="1"/>
<line x1="370.5" y1="292.5" x2="370.5" y2="315.2" stroke="#f26456" stroke-opacity="0.62" stroke-width="1"/>
<line x1="372.5" y1="300.8" x2="372.5" y2="318.0" stroke="#2f6bff" stroke-opacity="0.62" stroke-width="1"/>
<line x1="374.5" y1="302.2" x2="374.5" y2="310.8" stroke="#f26456" stroke-opacity="0.62" stroke-width="1"/>
<line x1="375.5" y1="291.7" x2="375.5" y2="305.6" stroke="#2f6bff" stroke-opacity="0.62" stroke-width="1"/>
<line x1="377.5" y1="284.2" x2="377.5" y2="302.2" stroke="#2f6bff" stroke-opacity="0.62" stroke-width="1"/>
<line x1="378.5" y1="284.8" x2="378.5" y2="290.0" stroke="#f26456" stroke-opacity="0.62" stroke-width="1"/>
<line x1="380.5" y1="281.1" x2="380.5" y2="298.9" stroke="#f26456" stroke-opacity="0.62" stroke-width="1"/>
<line x1="381.5" y1="268.9" x2="381.5" y2="293.3" stroke="#2f6bff" stroke-opacity="0.62" stroke-width="1"/>
<line x1="383.5" y1="250.4" x2="383.5" y2="286.3" stroke="#2f6bff" stroke-opacity="0.62" stroke-width="1"/>
<line x1="385.5" y1="248.0" x2="385.5" y2="252.6" stroke="#2f6bff" stroke-opacity="0.62" stroke-width="1"/>
<line x1="386.5" y1="238.0" x2="386.5" y2="251.9" stroke="#2f6bff" stroke-opacity="0.62" stroke-width="1"/>
<line x1="388.5" y1="248.0" x2="388.5" y2="255.8" stroke="#f26456" stroke-opacity="0.62" stroke-width="1"/>
<line x1="389.5" y1="251.4" x2="389.5" y2="258.8" stroke="#f26456" stroke-opacity="0.62" stroke-width="1"/>
<line x1="391.5" y1="257.0" x2="391.5" y2="266.0" stroke="#f26456" stroke-opacity="0.62" stroke-width="1"/>
<line x1="392.5" y1="248.1" x2="392.5" y2="265.6" stroke="#2f6bff" stroke-opacity="0.62" stroke-width="1"/>
<line x1="394.5" y1="240.0" x2="394.5" y2="261.7" stroke="#2f6bff" stroke-opacity="0.62" stroke-width="1"/>
<line x1="395.5" y1="227.3" x2="395.5" y2="242.9" stroke="#2f6bff" stroke-opacity="0.62" stroke-width="1"/>
<line x1="397.5" y1="222.5" x2="397.5" y2="233.4" stroke="#2f6bff" stroke-opacity="0.62" stroke-width="1"/>
<line x1="399.5" y1="219.6" x2="399.5" y2="232.7" stroke="#f26456" stroke-opacity="0.62" stroke-width="1"/>
<line x1="400.5" y1="225.1" x2="400.5" y2="242.3" stroke="#f26456" stroke-opacity="0.62" stroke-width="1"/>
<line x1="402.5" y1="237.0" x2="402.5" y2="250.2" stroke="#f26456" stroke-opacity="0.62" stroke-width="1"/>
<line x1="403.5" y1="238.2" x2="403.5" y2="247.5" stroke="#f26456" stroke-opacity="0.62" stroke-width="1"/>
<line x1="405.5" y1="243.5" x2="405.5" y2="252.0" stroke="#f26456" stroke-opacity="0.62" stroke-width="1"/>
<line x1="406.5" y1="246.7" x2="406.5" y2="252.0" stroke="#2f6bff" stroke-opacity="0.62" stroke-width="1"/>
<line x1="408.5" y1="241.0" x2="408.5" y2="251.8" stroke="#f26456" stroke-opacity="0.62" stroke-width="1"/>
<line x1="410.5" y1="230.0" x2="410.5" y2="251.2" stroke="#f26456" stroke-opacity="0.62" stroke-width="1"/>
<line x1="411.5" y1="241.0" x2="411.5" y2="254.0" stroke="#f26456" stroke-opacity="0.62" stroke-width="1"/>
<line x1="413.5" y1="245.1" x2="413.5" y2="252.3" stroke="#2f6bff" stroke-opacity="0.62" stroke-width="1"/>
<line x1="414.5" y1="244.0" x2="414.5" y2="250.0" stroke="#f26456" stroke-opacity="0.62" stroke-width="1"/>
<line x1="416.5" y1="244.0" x2="416.5" y2="278.0" stroke="#f26456" stroke-opacity="0.62" stroke-width="1"/>
<line x1="417.5" y1="251.2" x2="417.5" y2="265.6" stroke="#2f6bff" stroke-opacity="0.62" stroke-width="1"/>
<line x1="419.5" y1="241.0" x2="419.5" y2="254.4" stroke="#2f6bff" stroke-opacity="0.62" stroke-width="1"/>
<line x1="421.5" y1="244.2" x2="421.5" y2="253.0" stroke="#f26456" stroke-opacity="0.62" stroke-width="1"/>
<line x1="422.5" y1="235.1" x2="422.5" y2="251.1" stroke="#2f6bff" stroke-opacity="0.62" stroke-width="1"/>
<line x1="424.5" y1="209.9" x2="424.5" y2="245.2" stroke="#2f6bff" stroke-opacity="0.62" stroke-width="1"/>
<line x1="425.5" y1="189.0" x2="425.5" y2="212.4" stroke="#f26456" stroke-opacity="0.62" stroke-width="1"/>
<line x1="427.5" y1="193.9" x2="427.5" y2="214.0" stroke="#2f6bff" stroke-opacity="0.62" stroke-width="1"/>
<line x1="428.5" y1="192.3" x2="428.5" y2="195.9" stroke="#2f6bff" stroke-opacity="0.62" stroke-width="1"/>
<line x1="430.5" y1="188.8" x2="430.5" y2="196.7" stroke="#2f6bff" stroke-opacity="0.62" stroke-width="1"/>
<line x1="432.5" y1="186.3" x2="432.5" y2="192.5" stroke="#f26456" stroke-opacity="0.62" stroke-width="1"/>
<line x1="433.5" y1="171.2" x2="433.5" y2="193.2" stroke="#2f6bff" stroke-opacity="0.62" stroke-width="1"/>
<line x1="435.5" y1="137.0" x2="435.5" y2="177.8" stroke="#2f6bff" stroke-opacity="0.62" stroke-width="1"/>
<line x1="436.5" y1="141.1" x2="436.5" y2="154.5" stroke="#2f6bff" stroke-opacity="0.62" stroke-width="1"/>
<line x1="438.5" y1="141.0" x2="438.5" y2="154.4" stroke="#f26456" stroke-opacity="0.62" stroke-width="1"/>
<line x1="439.5" y1="151.5" x2="439.5" y2="159.0" stroke="#f26456" stroke-opacity="0.62" stroke-width="1"/>
<line x1="441.5" y1="149.9" x2="441.5" y2="159.0" stroke="#2f6bff" stroke-opacity="0.62" stroke-width="1"/>
<line x1="442.5" y1="132.9" x2="442.5" y2="155.5" stroke="#2f6bff" stroke-opacity="0.62" stroke-width="1"/>
<line x1="444.5" y1="113.3" x2="444.5" y2="150.8" stroke="#2f6bff" stroke-opacity="0.62" stroke-width="1"/>
<line x1="446.5" y1="116.9" x2="446.5" y2="120.2" stroke="#2f6bff" stroke-opacity="0.62" stroke-width="1"/>
<line x1="447.5" y1="111.0" x2="447.5" y2="119.9" stroke="#2f6bff" stroke-opacity="0.62" stroke-width="1"/>
<line x1="449.5" y1="111.0" x2="449.5" y2="121.2" stroke="#f26456" stroke-opacity="0.62" stroke-width="1"/>
<line x1="450.5" y1="99.0" x2="450.5" y2="129.0" stroke="#f26456" stroke-opacity="0.62" stroke-width="1"/>
<line x1="452.5" y1="104.0" x2="452.5" y2="124.7" stroke="#2f6bff" stroke-opacity="0.62" stroke-width="1"/>
<line x1="453.5" y1="121.1" x2="453.5" y2="123.7" stroke="#f26456" stroke-opacity="0.62" stroke-width="1"/>
<line x1="455.5" y1="121.8" x2="455.5" y2="127.9" stroke="#f26456" stroke-opacity="0.62" stroke-width="1"/>
<line x1="457.5" y1="127.9" x2="457.5" y2="134.5" stroke="#f26456" stroke-opacity="0.62" stroke-width="1"/>
<line x1="458.5" y1="133.8" x2="458.5" y2="145.4" stroke="#f26456" stroke-opacity="0.62" stroke-width="1"/>
<line x1="460.5" y1="141.7" x2="460.5" y2="144.9" stroke="#2f6bff" stroke-opacity="0.62" stroke-width="1"/>
<line x1="461.5" y1="137.4" x2="461.5" y2="145.5" stroke="#2f6bff" stroke-opacity="0.62" stroke-width="1"/>
<line x1="463.5" y1="140.8" x2="463.5" y2="147.1" stroke="#f26456" stroke-opacity="0.62" stroke-width="1"/>
<line x1="464.5" y1="140.0" x2="464.5" y2="144.9" stroke="#2f6bff" stroke-opacity="0.62" stroke-width="1"/>
<line x1="466.5" y1="141.6" x2="466.5" y2="152.2" stroke="#f26456" stroke-opacity="0.62" stroke-width="1"/>
<line x1="468.5" y1="149.9" x2="468.5" y2="162.0" stroke="#f26456" stroke-opacity="0.62" stroke-width="1"/>
<line x1="469.5" y1="155.1" x2="469.5" y2="161.6" stroke="#2f6bff" stroke-opacity="0.62" stroke-width="1"/>
<line x1="471.5" y1="150.1" x2="471.5" y2="162.0" stroke="#f26456" stroke-opacity="0.62" stroke-width="1"/>
<line x1="472.5" y1="152.8" x2="472.5" y2="161.7" stroke="#2f6bff" stroke-opacity="0.62" stroke-width="1"/>
<line x1="474.5" y1="156.2" x2="474.5" y2="162.0" stroke="#2f6bff" stroke-opacity="0.62" stroke-width="1"/>
<line x1="475.5" y1="138.9" x2="475.5" y2="159.1" stroke="#2f6bff" stroke-opacity="0.62" stroke-width="1"/>
<line x1="477.5" y1="138.6" x2="477.5" y2="144.5" stroke="#f26456" stroke-opacity="0.62" stroke-width="1"/>
<line x1="479.5" y1="140.7" x2="479.5" y2="159.0" stroke="#f26456" stroke-opacity="0.62" stroke-width="1"/>
<line x1="480.5" y1="115.0" x2="480.5" y2="156.5" stroke="#f26456" stroke-opacity="0.62" stroke-width="1"/>
<line x1="482.5" y1="152.8" x2="482.5" y2="154.4" stroke="#2f6bff" stroke-opacity="0.62" stroke-width="1"/>
<line x1="483.5" y1="151.0" x2="483.5" y2="170.2" stroke="#f26456" stroke-opacity="0.62" stroke-width="1"/>
<line x1="485.5" y1="158.4" x2="485.5" y2="174.0" stroke="#f26456" stroke-opacity="0.62" stroke-width="1"/>
<line x1="486.5" y1="170.1" x2="486.5" y2="173.4" stroke="#f26456" stroke-opacity="0.62" stroke-width="1"/>
<line x1="488.5" y1="170.9" x2="488.5" y2="173.2" stroke="#f26456" stroke-opacity="0.62" stroke-width="1"/>
<line x1="489.5" y1="156.0" x2="489.5" y2="174.6" stroke="#2f6bff" stroke-opacity="0.62" stroke-width="1"/>
<line x1="491.5" y1="156.5" x2="491.5" y2="193.9" stroke="#f26456" stroke-opacity="0.62" stroke-width="1"/>
<line x1="493.5" y1="188.4" x2="493.5" y2="196.1" stroke="#f26456" stroke-opacity="0.62" stroke-width="1"/>
<line x1="494.5" y1="186.0" x2="494.5" y2="196.0" stroke="#2f6bff" stroke-opacity="0.62" stroke-width="1"/>
<line x1="496.5" y1="187.0" x2="496.5" y2="194.9" stroke="#f26456" stroke-opacity="0.62" stroke-width="1"/>
<line x1="497.5" y1="183.7" x2="497.5" y2="194.2" stroke="#2f6bff" stroke-opacity="0.62" stroke-width="1"/>
<line x1="499.5" y1="177.3" x2="499.5" y2="191.4" stroke="#2f6bff" stroke-opacity="0.62" stroke-width="1"/>
<line x1="500.5" y1="176.9" x2="500.5" y2="185.5" stroke="#f26456" stroke-opacity="0.62" stroke-width="1"/>
<line x1="502.5" y1="176.4" x2="502.5" y2="185.7" stroke="#2f6bff" stroke-opacity="0.62" stroke-width="1"/>
<line x1="504.5" y1="171.0" x2="504.5" y2="183.2" stroke="#2f6bff" stroke-opacity="0.62" stroke-width="1"/>
<line x1="505.5" y1="171.0" x2="505.5" y2="176.7" stroke="#2f6bff" stroke-opacity="0.62" stroke-width="1"/>
<line x1="507.5" y1="171.0" x2="507.5" y2="175.8" stroke="#f26456" stroke-opacity="0.62" stroke-width="1"/>
<line x1="508.5" y1="173.9" x2="508.5" y2="193.3" stroke="#f26456" stroke-opacity="0.62" stroke-width="1"/>
<line x1="510.5" y1="173.8" x2="510.5" y2="195.1" stroke="#2f6bff" stroke-opacity="0.62" stroke-width="1"/>
<line x1="511.5" y1="167.2" x2="511.5" y2="179.1" stroke="#2f6bff" stroke-opacity="0.62" stroke-width="1"/>
<line x1="513.5" y1="164.3" x2="513.5" y2="170.9" stroke="#2f6bff" stroke-opacity="0.62" stroke-width="1"/>
<line x1="515.5" y1="163.9" x2="515.5" y2="166.6" stroke="#2f6bff" stroke-opacity="0.62" stroke-width="1"/>
<line x1="516.5" y1="161.0" x2="516.5" y2="166.3" stroke="#f26456" stroke-opacity="0.62" stroke-width="1"/>
<line x1="518.5" y1="161.8" x2="518.5" y2="172.0" stroke="#f26456" stroke-opacity="0.62" stroke-width="1"/>
<line x1="519.5" y1="147.2" x2="519.5" y2="168.7" stroke="#2f6bff" stroke-opacity="0.62" stroke-width="1"/>
<line x1="521.5" y1="103.0" x2="521.5" y2="149.9" stroke="#2f6bff" stroke-opacity="0.62" stroke-width="1"/>
<line x1="522.5" y1="125.0" x2="522.5" y2="138.0" stroke="#2f6bff" stroke-opacity="0.62" stroke-width="1"/>
<line x1="524.5" y1="102.0" x2="524.5" y2="130.0" stroke="#2f6bff" stroke-opacity="0.62" stroke-width="1"/>
<line x1="526.5" y1="100.0" x2="526.5" y2="103.2" stroke="#2f6bff" stroke-opacity="0.62" stroke-width="1"/>
<line x1="527.5" y1="100.0" x2="527.5" y2="111.9" stroke="#f26456" stroke-opacity="0.62" stroke-width="1"/>
<line x1="529.5" y1="100.0" x2="529.5" y2="125.3" stroke="#f26456" stroke-opacity="0.62" stroke-width="1"/>
<line x1="530.5" y1="117.5" x2="530.5" y2="142.5" stroke="#f26456" stroke-opacity="0.62" stroke-width="1"/>
<line x1="532.5" y1="135.9" x2="532.5" y2="146.0" stroke="#2f6bff" stroke-opacity="0.62" stroke-width="1"/>
<line x1="533.5" y1="128.5" x2="533.5" y2="139.1" stroke="#2f6bff" stroke-opacity="0.62" stroke-width="1"/>
<line x1="535.5" y1="121.9" x2="535.5" y2="129.9" stroke="#2f6bff" stroke-opacity="0.62" stroke-width="1"/>
<line x1="537.5" y1="121.4" x2="537.5" y2="141.6" stroke="#f26456" stroke-opacity="0.62" stroke-width="1"/>
<line x1="538.5" y1="132.2" x2="538.5" y2="140.0" stroke="#f26456" stroke-opacity="0.62" stroke-width="1"/>
<line x1="540.5" y1="115.6" x2="540.5" y2="137.5" stroke="#2f6bff" stroke-opacity="0.62" stroke-width="1"/>
<line x1="541.5" y1="102.0" x2="541.5" y2="118.6" stroke="#2f6bff" stroke-opacity="0.62" stroke-width="1"/>
<line x1="543.5" y1="102.0" x2="543.5" y2="113.5" stroke="#2f6bff" stroke-opacity="0.62" stroke-width="1"/>
<line x1="544.5" y1="102.0" x2="544.5" y2="121.1" stroke="#f26456" stroke-opacity="0.62" stroke-width="1"/>
<line x1="546.5" y1="114.4" x2="546.5" y2="134.6" stroke="#f26456" stroke-opacity="0.62" stroke-width="1"/>
<line x1="547.5" y1="132.1" x2="547.5" y2="148.5" stroke="#f26456" stroke-opacity="0.62" stroke-width="1"/>
<line x1="549.5" y1="142.0" x2="549.5" y2="149.9" stroke="#f26456" stroke-opacity="0.62" stroke-width="1"/>
<line x1="551.5" y1="143.8" x2="551.5" y2="154.7" stroke="#f26456" stroke-opacity="0.62" stroke-width="1"/>
<line x1="552.5" y1="137.0" x2="552.5" y2="162.0" stroke="#f26456" stroke-opacity="0.62" stroke-width="1"/>
<line x1="554.5" y1="146.0" x2="554.5" y2="164.0" stroke="#2f6bff" stroke-opacity="0.62" stroke-width="1"/>
<line x1="555.5" y1="147.0" x2="555.5" y2="154.5" stroke="#f26456" stroke-opacity="0.62" stroke-width="1"/>
<line x1="557.5" y1="151.7" x2="557.5" y2="179.0" stroke="#f26456" stroke-opacity="0.62" stroke-width="1"/>
<line x1="558.5" y1="171.3" x2="558.5" y2="186.0" stroke="#f26456" stroke-opacity="0.62" stroke-width="1"/>
<line x1="560.5" y1="185.1" x2="560.5" y2="197.3" stroke="#f26456" stroke-opacity="0.62" stroke-width="1"/>
<line x1="562.5" y1="193.9" x2="562.5" y2="197.3" stroke="#2f6bff" stroke-opacity="0.62" stroke-width="1"/>
<line x1="563.5" y1="190.6" x2="563.5" y2="195.0" stroke="#2f6bff" stroke-opacity="0.62" stroke-width="1"/>
<line x1="565.5" y1="182.0" x2="565.5" y2="197.8" stroke="#f26456" stroke-opacity="0.62" stroke-width="1"/>
<line x1="566.5" y1="194.8" x2="566.5" y2="201.3" stroke="#f26456" stroke-opacity="0.62" stroke-width="1"/>
<line x1="568.5" y1="200.4" x2="568.5" y2="206.2" stroke="#f26456" stroke-opacity="0.62" stroke-width="1"/>
<line x1="569.5" y1="203.6" x2="569.5" y2="209.0" stroke="#f26456" stroke-opacity="0.62" stroke-width="1"/>
<line x1="571.5" y1="191.0" x2="571.5" y2="211.3" stroke="#2f6bff" stroke-opacity="0.62" stroke-width="1"/>
<line x1="573.5" y1="199.4" x2="573.5" y2="205.2" stroke="#2f6bff" stroke-opacity="0.62" stroke-width="1"/>
<line x1="574.5" y1="201.0" x2="574.5" y2="210.1" stroke="#f26456" stroke-opacity="0.62" stroke-width="1"/>
<line x1="576.5" y1="183.0" x2="576.5" y2="216.8" stroke="#f26456" stroke-opacity="0.62" stroke-width="1"/>
<line x1="577.5" y1="212.7" x2="577.5" y2="233.6" stroke="#f26456" stroke-opacity="0.62" stroke-width="1"/>
<line x1="579.5" y1="232.7" x2="579.5" y2="242.0" stroke="#f26456" stroke-opacity="0.62" stroke-width="1"/>
<line x1="580.5" y1="231.9" x2="580.5" y2="241.5" stroke="#f26456" stroke-opacity="0.62" stroke-width="1"/>
<line x1="582.5" y1="229.7" x2="582.5" y2="242.0" stroke="#2f6bff" stroke-opacity="0.62" stroke-width="1"/>
<line x1="584.5" y1="226.6" x2="584.5" y2="238.7" stroke="#f26456" stroke-opacity="0.62" stroke-width="1"/>
<line x1="585.5" y1="237.9" x2="585.5" y2="251.2" stroke="#f26456" stroke-opacity="0.62" stroke-width="1"/>
<line x1="587.5" y1="239.2" x2="587.5" y2="254.0" stroke="#f26456" stroke-opacity="0.62" stroke-width="1"/>
<line x1="588.5" y1="247.1" x2="588.5" y2="254.0" stroke="#f26456" stroke-opacity="0.62" stroke-width="1"/>
<line x1="590.5" y1="248.7" x2="590.5" y2="254.0" stroke="#f26456" stroke-opacity="0.62" stroke-width="1"/>
<line x1="591.5" y1="251.8" x2="591.5" y2="253.1" stroke="#2f6bff" stroke-opacity="0.62" stroke-width="1"/>
<line x1="593.5" y1="244.9" x2="593.5" y2="254.0" stroke="#2f6bff" stroke-opacity="0.62" stroke-width="1"/>
<line x1="594.5" y1="231.9" x2="594.5" y2="247.2" stroke="#2f6bff" stroke-opacity="0.62" stroke-width="1"/>
<line x1="596.5" y1="228.0" x2="596.5" y2="237.8" stroke="#2f6bff" stroke-opacity="0.62" stroke-width="1"/>
<line x1="598.5" y1="228.0" x2="598.5" y2="234.8" stroke="#f26456" stroke-opacity="0.62" stroke-width="1"/>
<line x1="599.5" y1="228.0" x2="599.5" y2="232.3" stroke="#2f6bff" stroke-opacity="0.62" stroke-width="1"/>
<line x1="601.5" y1="232.5" x2="601.5" y2="238.2" stroke="#f26456" stroke-opacity="0.62" stroke-width="1"/>
<line x1="602.5" y1="234.0" x2="602.5" y2="249.4" stroke="#f26456" stroke-opacity="0.62" stroke-width="1"/>
<line x1="604.5" y1="237.2" x2="604.5" y2="251.7" stroke="#f26456" stroke-opacity="0.62" stroke-width="1"/>
<line x1="605.5" y1="249.5" x2="605.5" y2="264.9" stroke="#f26456" stroke-opacity="0.62" stroke-width="1"/>
<line x1="607.5" y1="254.8" x2="607.5" y2="266.5" stroke="#2f6bff" stroke-opacity="0.62" stroke-width="1"/>
<line x1="609.5" y1="258.0" x2="609.5" y2="264.9" stroke="#f26456" stroke-opacity="0.62" stroke-width="1"/>
<line x1="610.5" y1="258.0" x2="610.5" y2="263.1" stroke="#f26456" stroke-opacity="0.62" stroke-width="1"/>
<line x1="612.5" y1="258.0" x2="612.5" y2="260.2" stroke="#f26456" stroke-opacity="0.62" stroke-width="1"/>
<line x1="613.5" y1="260.8" x2="613.5" y2="270.9" stroke="#f26456" stroke-opacity="0.62" stroke-width="1"/>
<line x1="615.5" y1="262.7" x2="615.5" y2="271.1" stroke="#f26456" stroke-opacity="0.62" stroke-width="1"/>
<line x1="616.5" y1="269.6" x2="616.5" y2="273.6" stroke="#f26456" stroke-opacity="0.62" stroke-width="1"/>
<line x1="618.5" y1="273.0" x2="618.5" y2="278.1" stroke="#f26456" stroke-opacity="0.62" stroke-width="1"/>
<line x1="620.5" y1="271.7" x2="620.5" y2="279.0" stroke="#2f6bff" stroke-opacity="0.62" stroke-width="1"/>
<line x1="621.5" y1="269.7" x2="621.5" y2="278.3" stroke="#2f6bff" stroke-opacity="0.62" stroke-width="1"/>
<line x1="623.5" y1="259.8" x2="623.5" y2="277.0" stroke="#2f6bff" stroke-opacity="0.62" stroke-width="1"/>
<line x1="624.5" y1="265.0" x2="624.5" y2="272.2" stroke="#f26456" stroke-opacity="0.62" stroke-width="1"/>
<line x1="626.5" y1="264.5" x2="626.5" y2="266.5" stroke="#2f6bff" stroke-opacity="0.62" stroke-width="1"/>
<line x1="627.5" y1="249.4" x2="627.5" y2="259.7" stroke="#2f6bff" stroke-opacity="0.62" stroke-width="1"/>
<line x1="629.5" y1="246.6" x2="629.5" y2="258.3" stroke="#f26456" stroke-opacity="0.62" stroke-width="1"/>
<line x1="631.5" y1="241.4" x2="631.5" y2="253.8" stroke="#2f6bff" stroke-opacity="0.62" stroke-width="1"/>
<line x1="632.5" y1="240.1" x2="632.5" y2="245.4" stroke="#f26456" stroke-opacity="0.62" stroke-width="1"/>
<line x1="634.5" y1="231.8" x2="634.5" y2="246.4" stroke="#2f6bff" stroke-opacity="0.62" stroke-width="1"/>
<line x1="635.5" y1="227.1" x2="635.5" y2="237.0" stroke="#2f6bff" stroke-opacity="0.62" stroke-width="1"/>
<line x1="637.5" y1="223.4" x2="637.5" y2="229.0" stroke="#2f6bff" stroke-opacity="0.62" stroke-width="1"/>
<line x1="638.5" y1="218.8" x2="638.5" y2="227.1" stroke="#f26456" stroke-opacity="0.62" stroke-width="1"/>
<line x1="640.5" y1="215.4" x2="640.5" y2="226.0" stroke="#2f6bff" stroke-opacity="0.62" stroke-width="1"/>
<line x1="641.5" y1="198.3" x2="641.5" y2="219.4" stroke="#2f6bff" stroke-opacity="0.62" stroke-width="1"/>
<line x1="643.5" y1="185.0" x2="643.5" y2="200.4" stroke="#2f6bff" stroke-opacity="0.62" stroke-width="1"/>
<line x1="645.5" y1="191.3" x2="645.5" y2="200.0" stroke="#f26456" stroke-opacity="0.62" stroke-width="1"/>
<line x1="646.5" y1="199.4" x2="646.5" y2="203.7" stroke="#f26456" stroke-opacity="0.62" stroke-width="1"/>
<line x1="648.5" y1="202.6" x2="648.5" y2="205.1" stroke="#2f6bff" stroke-opacity="0.62" stroke-width="1"/>
<line x1="649.5" y1="194.0" x2="649.5" y2="207.7" stroke="#2f6bff" stroke-opacity="0.62" stroke-width="1"/>
<line x1="651.5" y1="194.0" x2="651.5" y2="201.3" stroke="#f26456" stroke-opacity="0.62" stroke-width="1"/>
<line x1="652.5" y1="194.6" x2="652.5" y2="210.0" stroke="#f26456" stroke-opacity="0.62" stroke-width="1"/>
<line x1="654.5" y1="199.4" x2="654.5" y2="206.1" stroke="#f26456" stroke-opacity="0.62" stroke-width="1"/>
<line x1="656.5" y1="203.5" x2="656.5" y2="212.9" stroke="#f26456" stroke-opacity="0.62" stroke-width="1"/>
<line x1="657.5" y1="205.8" x2="657.5" y2="216.0" stroke="#f26456" stroke-opacity="0.62" stroke-width="1"/>
<line x1="659.5" y1="211.8" x2="659.5" y2="218.0" stroke="#f26456" stroke-opacity="0.62" stroke-width="1"/>
<line x1="660.5" y1="200.5" x2="660.5" y2="218.0" stroke="#2f6bff" stroke-opacity="0.62" stroke-width="1"/>
<line x1="662.5" y1="199.7" x2="662.5" y2="207.7" stroke="#2f6bff" stroke-opacity="0.62" stroke-width="1"/>
<line x1="663.5" y1="195.2" x2="663.5" y2="208.9" stroke="#2f6bff" stroke-opacity="0.62" stroke-width="1"/>
<line x1="665.5" y1="200.0" x2="665.5" y2="209.0" stroke="#2f6bff" stroke-opacity="0.62" stroke-width="1"/>
<line x1="667.5" y1="194.6" x2="667.5" y2="202.0" stroke="#2f6bff" stroke-opacity="0.62" stroke-width="1"/>
<line x1="668.5" y1="192.6" x2="668.5" y2="199.3" stroke="#f26456" stroke-opacity="0.62" stroke-width="1"/>
<line x1="670.5" y1="190.7" x2="670.5" y2="200.0" stroke="#2f6bff" stroke-opacity="0.62" stroke-width="1"/>
<line x1="671.5" y1="178.0" x2="671.5" y2="201.6" stroke="#f26456" stroke-opacity="0.62" stroke-width="1"/>
<line x1="673.5" y1="192.5" x2="673.5" y2="208.3" stroke="#f26456" stroke-opacity="0.62" stroke-width="1"/>
<line x1="674.5" y1="205.1" x2="674.5" y2="214.0" stroke="#f26456" stroke-opacity="0.62" stroke-width="1"/>
<line x1="676.5" y1="211.8" x2="676.5" y2="215.0" stroke="#f26456" stroke-opacity="0.62" stroke-width="1"/>
<line x1="678.5" y1="206.9" x2="678.5" y2="216.2" stroke="#2f6bff" stroke-opacity="0.62" stroke-width="1"/>
<line x1="679.5" y1="188.0" x2="679.5" y2="214.5" stroke="#f26456" stroke-opacity="0.62" stroke-width="1"/>
<line x1="681.5" y1="210.9" x2="681.5" y2="221.2" stroke="#f26456" stroke-opacity="0.62" stroke-width="1"/>
<line x1="682.5" y1="210.7" x2="682.5" y2="229.5" stroke="#f26456" stroke-opacity="0.62" stroke-width="1"/>
<line x1="684.5" y1="225.0" x2="684.5" y2="245.3" stroke="#f26456" stroke-opacity="0.62" stroke-width="1"/>
<line x1="685.5" y1="226.7" x2="685.5" y2="251.8" stroke="#f26456" stroke-opacity="0.62" stroke-width="1"/>
<line x1="687.5" y1="242.5" x2="687.5" y2="256.0" stroke="#f26456" stroke-opacity="0.62" stroke-width="1"/>
<line x1="689.5" y1="248.9" x2="689.5" y2="253.7" stroke="#2f6bff" stroke-opacity="0.62" stroke-width="1"/>
<rect x="-1.2" y="99.0" width="1.9" height="1.8" fill="#f26456"/>
<rect x="0.8" y="100.8" width="1.9" height="23.6" fill="#f26456"/>
<rect x="1.8" y="124.4" width="1.9" height="18.1" fill="#f26456"/>
<rect x="6.8" y="120.1" width="1.9" height="4.3" fill="#f26456"/>
<rect x="7.8" y="124.4" width="1.9" height="1.0" fill="#f26456"/>
<rect x="9.8" y="124.6" width="1.9" height="15.8" fill="#f26456"/>
<rect x="11.8" y="140.4" width="1.9" height="31.6" fill="#f26456"/>
<rect x="12.8" y="172.0" width="1.9" height="8.2" fill="#f26456"/>
<rect x="14.8" y="180.2" width="1.9" height="3.8" fill="#f26456"/>
<rect x="15.8" y="183.9" width="1.9" height="5.6" fill="#f26456"/>
<rect x="17.8" y="189.5" width="1.9" height="4.8" fill="#f26456"/>
<rect x="23.8" y="171.9" width="1.9" height="1.0" fill="#f26456"/>
<rect x="26.8" y="165.6" width="1.9" height="5.9" fill="#f26456"/>
<rect x="28.8" y="171.5" width="1.9" height="10.2" fill="#f26456"/>
<rect x="29.8" y="181.7" width="1.9" height="7.4" fill="#f26456"/>
<rect x="31.8" y="189.1" width="1.9" height="2.4" fill="#f26456"/>
<rect x="32.8" y="191.5" width="1.9" height="9.5" fill="#f26456"/>
<rect x="39.8" y="175.0" width="1.9" height="4.9" fill="#f26456"/>
<rect x="42.8" y="178.0" width="1.9" height="1.0" fill="#f26456"/>
<rect x="47.8" y="169.0" width="1.9" height="1.0" fill="#f26456"/>
<rect x="48.8" y="169.0" width="1.9" height="1.2" fill="#f26456"/>
<rect x="50.8" y="170.2" width="1.9" height="16.3" fill="#f26456"/>
<rect x="51.8" y="186.6" width="1.9" height="9.1" fill="#f26456"/>
<rect x="53.8" y="195.7" width="1.9" height="7.7" fill="#f26456"/>
<rect x="56.8" y="198.7" width="1.9" height="10.0" fill="#f26456"/>
<rect x="58.8" y="208.7" width="1.9" height="2.4" fill="#f26456"/>
<rect x="59.8" y="211.1" width="1.9" height="1.0" fill="#f26456"/>
<rect x="69.8" y="126.0" width="1.9" height="3.9" fill="#f26456"/>
<rect x="70.8" y="129.9" width="1.9" height="5.2" fill="#f26456"/>
<rect x="72.8" y="135.1" width="1.9" height="11.4" fill="#f26456"/>
<rect x="73.8" y="146.5" width="1.9" height="5.2" fill="#f26456"/>
<rect x="75.8" y="151.7" width="1.9" height="14.2" fill="#f26456"/>
<rect x="76.8" y="165.9" width="1.9" height="6.6" fill="#f26456"/>
<rect x="83.8" y="165.8" width="1.9" height="5.5" fill="#f26456"/>
<rect x="84.8" y="171.3" width="1.9" height="10.0" fill="#f26456"/>
<rect x="86.8" y="181.3" width="1.9" height="1.5" fill="#f26456"/>
<rect x="87.8" y="182.8" width="1.9" height="5.1" fill="#f26456"/>
<rect x="89.8" y="187.9" width="1.9" height="1.4" fill="#f26456"/>
<rect x="92.8" y="182.0" width="1.9" height="9.6" fill="#f26456"/>
<rect x="94.8" y="191.6" width="1.9" height="4.6" fill="#f26456"/>
<rect x="95.8" y="196.2" width="1.9" height="1.8" fill="#f26456"/>
<rect x="100.8" y="190.9" width="1.9" height="1.0" fill="#f26456"/>
<rect x="103.8" y="186.9" width="1.9" height="5.2" fill="#f26456"/>
<rect x="105.8" y="192.1" width="1.9" height="14.7" fill="#f26456"/>
<rect x="106.8" y="206.8" width="1.9" height="4.7" fill="#f26456"/>
<rect x="108.8" y="211.5" width="1.9" height="15.4" fill="#f26456"/>
<rect x="109.8" y="226.9" width="1.9" height="2.1" fill="#f26456"/>
<rect x="111.8" y="229.0" width="1.9" height="6.1" fill="#f26456"/>
<rect x="112.8" y="235.1" width="1.9" height="7.2" fill="#f26456"/>
<rect x="114.8" y="242.3" width="1.9" height="44.0" fill="#f26456"/>
<rect x="116.8" y="286.3" width="1.9" height="6.5" fill="#f26456"/>
<rect x="117.8" y="292.8" width="1.9" height="10.2" fill="#f26456"/>
<rect x="120.8" y="302.7" width="1.9" height="4.4" fill="#f26456"/>
<rect x="122.8" y="307.1" width="1.9" height="1.0" fill="#f26456"/>
<rect x="123.8" y="307.4" width="1.9" height="5.9" fill="#f26456"/>
<rect x="125.8" y="313.2" width="1.9" height="11.1" fill="#f26456"/>
<rect x="128.8" y="320.9" width="1.9" height="4.8" fill="#f26456"/>
<rect x="130.8" y="325.6" width="1.9" height="4.2" fill="#f26456"/>
<rect x="134.8" y="296.3" width="1.9" height="1.0" fill="#f26456"/>
<rect x="147.8" y="217.0" width="1.9" height="3.9" fill="#f26456"/>
<rect x="150.8" y="219.7" width="1.9" height="7.4" fill="#f26456"/>
<rect x="152.8" y="227.1" width="1.9" height="9.6" fill="#f26456"/>
<rect x="153.8" y="236.7" width="1.9" height="1.0" fill="#f26456"/>
<rect x="155.8" y="237.3" width="1.9" height="2.5" fill="#f26456"/>
<rect x="156.8" y="239.8" width="1.9" height="3.2" fill="#f26456"/>
<rect x="158.8" y="243.0" width="1.9" height="1.0" fill="#f26456"/>
<rect x="159.8" y="243.0" width="1.9" height="1.0" fill="#f26456"/>
<rect x="163.8" y="236.8" width="1.9" height="9.8" fill="#f26456"/>
<rect x="164.8" y="246.6" width="1.9" height="2.4" fill="#f26456"/>
<rect x="170.8" y="228.7" width="1.9" height="1.1" fill="#f26456"/>
<rect x="172.8" y="229.8" width="1.9" height="1.0" fill="#f26456"/>
<rect x="175.8" y="225.0" width="1.9" height="5.5" fill="#f26456"/>
<rect x="180.8" y="221.0" width="1.9" height="9.5" fill="#f26456"/>
<rect x="183.8" y="228.0" width="1.9" height="8.1" fill="#f26456"/>
<rect x="184.8" y="236.1" width="1.9" height="6.1" fill="#f26456"/>
<rect x="186.8" y="242.2" width="1.9" height="7.9" fill="#f26456"/>
<rect x="188.8" y="250.1" width="1.9" height="14.1" fill="#f26456"/>
<rect x="189.8" y="264.2" width="1.9" height="6.4" fill="#f26456"/>
<rect x="195.8" y="207.0" width="1.9" height="115.0" fill="#f26456"/>
<rect x="203.8" y="177.0" width="1.9" height="1.0" fill="#f26456"/>
<rect x="205.8" y="177.0" width="1.9" height="1.0" fill="#f26456"/>
<rect x="206.8" y="177.0" width="1.9" height="15.1" fill="#f26456"/>
<rect x="210.8" y="191.2" width="1.9" height="1.1" fill="#f26456"/>
<rect x="211.8" y="192.3" width="1.9" height="3.4" fill="#f26456"/>
<rect x="213.8" y="195.7" width="1.9" height="10.7" fill="#f26456"/>
<rect x="214.8" y="206.4" width="1.9" height="20.7" fill="#f26456"/>
<rect x="216.8" y="227.1" width="1.9" height="36.0" fill="#f26456"/>
<rect x="217.8" y="263.0" width="1.9" height="7.2" fill="#f26456"/>
<rect x="219.8" y="270.2" width="1.9" height="4.8" fill="#f26456"/>
<rect x="230.8" y="199.0" width="1.9" height="20.1" fill="#f26456"/>
<rect x="232.8" y="219.1" width="1.9" height="15.5" fill="#f26456"/>
<rect x="233.8" y="234.7" width="1.9" height="15.6" fill="#f26456"/>
<rect x="235.8" y="250.2" width="1.9" height="2.6" fill="#f26456"/>
<rect x="242.8" y="207.0" width="1.9" height="20.5" fill="#f26456"/>
<rect x="244.8" y="227.5" width="1.9" height="15.5" fill="#f26456"/>
<rect x="252.8" y="221.4" width="1.9" height="2.7" fill="#f26456"/>
<rect x="253.8" y="224.1" width="1.9" height="19.5" fill="#f26456"/>
<rect x="255.8" y="243.7" width="1.9" height="8.2" fill="#f26456"/>
<rect x="257.8" y="251.9" width="1.9" height="1.0" fill="#f26456"/>
<rect x="258.8" y="252.1" width="1.9" height="3.6" fill="#f26456"/>
<rect x="260.8" y="255.8" width="1.9" height="4.8" fill="#f26456"/>
<rect x="261.8" y="260.5" width="1.9" height="19.9" fill="#f26456"/>
<rect x="263.8" y="280.4" width="1.9" height="12.6" fill="#f26456"/>
<rect x="268.8" y="283.0" width="1.9" height="6.5" fill="#f26456"/>
<rect x="277.8" y="254.3" width="1.9" height="4.5" fill="#f26456"/>
<rect x="279.8" y="258.8" width="1.9" height="1.3" fill="#f26456"/>
<rect x="280.8" y="260.1" width="1.9" height="17.0" fill="#f26456"/>
<rect x="282.8" y="277.1" width="1.9" height="3.8" fill="#f26456"/>
<rect x="283.8" y="280.9" width="1.9" height="7.7" fill="#f26456"/>
<rect x="285.8" y="288.6" width="1.9" height="29.1" fill="#f26456"/>
<rect x="286.8" y="317.7" width="1.9" height="5.3" fill="#f26456"/>
<rect x="289.8" y="314.6" width="1.9" height="5.8" fill="#f26456"/>
<rect x="293.8" y="320.0" width="1.9" height="18.1" fill="#f26456"/>
<rect x="294.8" y="338.0" width="1.9" height="15.0" fill="#f26456"/>
<rect x="302.8" y="319.0" width="1.9" height="1.9" fill="#f26456"/>
<rect x="304.8" y="320.9" width="1.9" height="2.3" fill="#f26456"/>
<rect x="305.8" y="323.2" width="1.9" height="13.9" fill="#f26456"/>
<rect x="307.8" y="337.1" width="1.9" height="7.8" fill="#f26456"/>
<rect x="308.8" y="344.9" width="1.9" height="14.8" fill="#f26456"/>
<rect x="310.8" y="359.7" width="1.9" height="6.9" fill="#f26456"/>
<rect x="311.8" y="366.5" width="1.9" height="4.6" fill="#f26456"/>
<rect x="313.8" y="371.1" width="1.9" height="4.6" fill="#f26456"/>
<rect x="315.8" y="375.7" width="1.9" height="3.3" fill="#f26456"/>
<rect x="324.8" y="329.0" width="1.9" height="8.2" fill="#f26456"/>
<rect x="326.8" y="337.2" width="1.9" height="5.0" fill="#f26456"/>
<rect x="327.8" y="342.2" width="1.9" height="15.1" fill="#f26456"/>
<rect x="333.8" y="310.9" width="1.9" height="2.7" fill="#f26456"/>
<rect x="336.8" y="307.2" width="1.9" height="1.7" fill="#f26456"/>
<rect x="343.8" y="277.0" width="1.9" height="1.0" fill="#f26456"/>
<rect x="344.8" y="277.0" width="1.9" height="3.2" fill="#f26456"/>
<rect x="347.8" y="273.8" width="1.9" height="1.0" fill="#f26456"/>
<rect x="349.8" y="274.1" width="1.9" height="9.7" fill="#f26456"/>
<rect x="351.8" y="283.8" width="1.9" height="6.8" fill="#f26456"/>
<rect x="355.8" y="281.5" width="1.9" height="4.1" fill="#f26456"/>
<rect x="358.8" y="284.1" width="1.9" height="4.6" fill="#f26456"/>
<rect x="363.8" y="282.0" width="1.9" height="1.0" fill="#f26456"/>
<rect x="365.8" y="282.0" width="1.9" height="9.1" fill="#f26456"/>
<rect x="368.8" y="286.6" width="1.9" height="6.7" fill="#f26456"/>
<rect x="369.8" y="293.3" width="1.9" height="17.3" fill="#f26456"/>
<rect x="373.8" y="303.0" width="1.9" height="6.1" fill="#f26456"/>
<rect x="377.8" y="285.0" width="1.9" height="3.4" fill="#f26456"/>
<rect x="379.8" y="288.4" width="1.9" height="3.6" fill="#f26456"/>
<rect x="387.8" y="249.0" width="1.9" height="5.4" fill="#f26456"/>
<rect x="388.8" y="254.4" width="1.9" height="4.0" fill="#f26456"/>
<rect x="390.8" y="258.4" width="1.9" height="5.4" fill="#f26456"/>
<rect x="398.8" y="224.2" width="1.9" height="8.3" fill="#f26456"/>
<rect x="399.8" y="232.5" width="1.9" height="8.8" fill="#f26456"/>
<rect x="401.8" y="241.4" width="1.9" height="3.0" fill="#f26456"/>
<rect x="402.8" y="244.4" width="1.9" height="1.0" fill="#f26456"/>
<rect x="404.8" y="244.4" width="1.9" height="5.4" fill="#f26456"/>
<rect x="407.8" y="246.7" width="1.9" height="1.9" fill="#f26456"/>
<rect x="409.8" y="248.6" width="1.9" height="1.0" fill="#f26456"/>
<rect x="410.8" y="249.1" width="1.9" height="1.0" fill="#f26456"/>
<rect x="413.8" y="246.9" width="1.9" height="2.4" fill="#f26456"/>
<rect x="415.8" y="249.4" width="1.9" height="15.0" fill="#f26456"/>
<rect x="420.8" y="244.9" width="1.9" height="3.6" fill="#f26456"/>
<rect x="424.8" y="211.2" width="1.9" height="1.0" fill="#f26456"/>
<rect x="431.8" y="189.8" width="1.9" height="2.3" fill="#f26456"/>
<rect x="437.8" y="142.0" width="1.9" height="11.1" fill="#f26456"/>
<rect x="438.8" y="153.1" width="1.9" height="4.9" fill="#f26456"/>
<rect x="448.8" y="116.8" width="1.9" height="3.0" fill="#f26456"/>
<rect x="449.8" y="119.7" width="1.9" height="4.6" fill="#f26456"/>
<rect x="452.8" y="121.9" width="1.9" height="1.0" fill="#f26456"/>
<rect x="454.8" y="122.3" width="1.9" height="4.9" fill="#f26456"/>
<rect x="456.8" y="127.2" width="1.9" height="6.6" fill="#f26456"/>
<rect x="457.8" y="133.8" width="1.9" height="10.3" fill="#f26456"/>
<rect x="462.8" y="142.4" width="1.9" height="2.1" fill="#f26456"/>
<rect x="465.8" y="143.3" width="1.9" height="7.8" fill="#f26456"/>
<rect x="467.8" y="151.1" width="1.9" height="8.8" fill="#f26456"/>
<rect x="470.8" y="156.5" width="1.9" height="4.5" fill="#f26456"/>
<rect x="476.8" y="140.6" width="1.9" height="3.4" fill="#f26456"/>
<rect x="478.8" y="143.9" width="1.9" height="8.2" fill="#f26456"/>
<rect x="479.8" y="152.2" width="1.9" height="1.2" fill="#f26456"/>
<rect x="482.8" y="153.3" width="1.9" height="10.3" fill="#f26456"/>
<rect x="484.8" y="163.6" width="1.9" height="7.2" fill="#f26456"/>
<rect x="485.8" y="170.8" width="1.9" height="2.2" fill="#f26456"/>
<rect x="487.8" y="173.0" width="1.9" height="1.0" fill="#f26456"/>
<rect x="490.8" y="162.1" width="1.9" height="31.3" fill="#f26456"/>
<rect x="492.8" y="193.3" width="1.9" height="2.0" fill="#f26456"/>
<rect x="495.8" y="187.8" width="1.9" height="5.4" fill="#f26456"/>
<rect x="499.8" y="181.5" width="1.9" height="3.9" fill="#f26456"/>
<rect x="506.8" y="172.0" width="1.9" height="2.0" fill="#f26456"/>
<rect x="507.8" y="174.0" width="1.9" height="16.2" fill="#f26456"/>
<rect x="515.8" y="164.2" width="1.9" height="1.8" fill="#f26456"/>
<rect x="517.8" y="166.0" width="1.9" height="1.2" fill="#f26456"/>
<rect x="526.8" y="101.0" width="1.9" height="2.3" fill="#f26456"/>
<rect x="528.8" y="103.3" width="1.9" height="21.4" fill="#f26456"/>
<rect x="529.8" y="124.8" width="1.9" height="16.7" fill="#f26456"/>
<rect x="536.8" y="122.0" width="1.9" height="10.8" fill="#f26456"/>
<rect x="537.8" y="132.8" width="1.9" height="2.3" fill="#f26456"/>
<rect x="543.8" y="103.0" width="1.9" height="16.5" fill="#f26456"/>
<rect x="545.8" y="119.5" width="1.9" height="14.1" fill="#f26456"/>
<rect x="546.8" y="133.6" width="1.9" height="10.3" fill="#f26456"/>
<rect x="548.8" y="143.9" width="1.9" height="5.4" fill="#f26456"/>
<rect x="550.8" y="149.3" width="1.9" height="4.5" fill="#f26456"/>
<rect x="551.8" y="153.8" width="1.9" height="2.7" fill="#f26456"/>
<rect x="554.8" y="147.1" width="1.9" height="6.9" fill="#f26456"/>
<rect x="556.8" y="154.0" width="1.9" height="17.8" fill="#f26456"/>
<rect x="557.8" y="171.8" width="1.9" height="13.3" fill="#f26456"/>
<rect x="559.8" y="185.1" width="1.9" height="10.8" fill="#f26456"/>
<rect x="564.8" y="193.5" width="1.9" height="2.3" fill="#f26456"/>
<rect x="565.8" y="195.7" width="1.9" height="5.0" fill="#f26456"/>
<rect x="567.8" y="200.7" width="1.9" height="4.5" fill="#f26456"/>
<rect x="568.8" y="205.2" width="1.9" height="2.8" fill="#f26456"/>
<rect x="573.8" y="202.5" width="1.9" height="3.3" fill="#f26456"/>
<rect x="575.8" y="205.9" width="1.9" height="8.5" fill="#f26456"/>
<rect x="576.8" y="214.4" width="1.9" height="18.4" fill="#f26456"/>
<rect x="578.8" y="232.8" width="1.9" height="8.2" fill="#f26456"/>
<rect x="579.8" y="241.0" width="1.9" height="1.0" fill="#f26456"/>
<rect x="583.8" y="231.9" width="1.9" height="6.1" fill="#f26456"/>
<rect x="584.8" y="238.1" width="1.9" height="6.1" fill="#f26456"/>
<rect x="586.8" y="244.1" width="1.9" height="7.4" fill="#f26456"/>
<rect x="587.8" y="251.5" width="1.9" height="1.5" fill="#f26456"/>
<rect x="589.8" y="253.0" width="1.9" height="1.0" fill="#f26456"/>
<rect x="597.8" y="229.0" width="1.9" height="2.6" fill="#f26456"/>
<rect x="600.8" y="230.8" width="1.9" height="6.5" fill="#f26456"/>
<rect x="601.8" y="237.3" width="1.9" height="2.8" fill="#f26456"/>
<rect x="603.8" y="240.2" width="1.9" height="10.2" fill="#f26456"/>
<rect x="604.8" y="250.4" width="1.9" height="6.9" fill="#f26456"/>
<rect x="608.8" y="255.8" width="1.9" height="3.2" fill="#f26456"/>
<rect x="609.8" y="259.0" width="1.9" height="1.0" fill="#f26456"/>
<rect x="611.8" y="259.0" width="1.9" height="1.0" fill="#f26456"/>
<rect x="612.8" y="259.0" width="1.9" height="4.2" fill="#f26456"/>
<rect x="614.8" y="263.2" width="1.9" height="7.8" fill="#f26456"/>
<rect x="615.8" y="271.0" width="1.9" height="2.1" fill="#f26456"/>
<rect x="617.8" y="273.1" width="1.9" height="4.9" fill="#f26456"/>
<rect x="623.8" y="265.3" width="1.9" height="1.0" fill="#f26456"/>
<rect x="628.8" y="249.8" width="1.9" height="2.9" fill="#f26456"/>
<rect x="631.8" y="244.6" width="1.9" height="1.0" fill="#f26456"/>
<rect x="637.8" y="224.9" width="1.9" height="1.0" fill="#f26456"/>
<rect x="644.8" y="196.8" width="1.9" height="2.7" fill="#f26456"/>
<rect x="645.8" y="199.4" width="1.9" height="3.5" fill="#f26456"/>
<rect x="650.8" y="195.0" width="1.9" height="1.0" fill="#f26456"/>
<rect x="651.8" y="195.6" width="1.9" height="7.7" fill="#f26456"/>
<rect x="653.8" y="203.3" width="1.9" height="1.0" fill="#f26456"/>
<rect x="655.8" y="203.9" width="1.9" height="5.7" fill="#f26456"/>
<rect x="656.8" y="209.6" width="1.9" height="5.4" fill="#f26456"/>
<rect x="658.8" y="215.0" width="1.9" height="1.0" fill="#f26456"/>
<rect x="667.8" y="197.0" width="1.9" height="1.3" fill="#f26456"/>
<rect x="670.8" y="191.2" width="1.9" height="6.0" fill="#f26456"/>
<rect x="672.8" y="197.3" width="1.9" height="8.3" fill="#f26456"/>
<rect x="673.8" y="205.5" width="1.9" height="6.9" fill="#f26456"/>
<rect x="675.8" y="212.5" width="1.9" height="1.5" fill="#f26456"/>
<rect x="678.8" y="210.8" width="1.9" height="2.4" fill="#f26456"/>
<rect x="680.8" y="213.3" width="1.9" height="7.4" fill="#f26456"/>
<rect x="681.8" y="220.7" width="1.9" height="4.6" fill="#f26456"/>
<rect x="683.8" y="225.3" width="1.9" height="9.9" fill="#f26456"/>
<rect x="684.8" y="235.3" width="1.9" height="11.5" fill="#f26456"/>
<rect x="686.8" y="246.8" width="1.9" height="6.2" fill="#f26456"/>
<rect x="3.8" y="134.0" width="1.9" height="8.6" fill="#2f6bff"/>
<rect x="4.8" y="120.1" width="1.9" height="13.9" fill="#2f6bff"/>
<rect x="18.8" y="188.0" width="1.9" height="6.4" fill="#2f6bff"/>
<rect x="20.8" y="182.8" width="1.9" height="5.2" fill="#2f6bff"/>
<rect x="22.8" y="171.9" width="1.9" height="10.9" fill="#2f6bff"/>
<rect x="25.8" y="165.6" width="1.9" height="6.4" fill="#2f6bff"/>
<rect x="34.8" y="189.5" width="1.9" height="11.5" fill="#2f6bff"/>
<rect x="36.8" y="182.2" width="1.9" height="7.3" fill="#2f6bff"/>
<rect x="37.8" y="175.0" width="1.9" height="7.2" fill="#2f6bff"/>
<rect x="40.8" y="178.0" width="1.9" height="1.8" fill="#2f6bff"/>
<rect x="43.8" y="177.0" width="1.9" height="1.1" fill="#2f6bff"/>
<rect x="45.8" y="169.0" width="1.9" height="8.0" fill="#2f6bff"/>
<rect x="54.8" y="198.7" width="1.9" height="4.7" fill="#2f6bff"/>
<rect x="61.8" y="210.4" width="1.9" height="1.5" fill="#2f6bff"/>
<rect x="62.8" y="209.9" width="1.9" height="1.0" fill="#2f6bff"/>
<rect x="64.8" y="163.8" width="1.9" height="46.1" fill="#2f6bff"/>
<rect x="65.8" y="134.1" width="1.9" height="29.7" fill="#2f6bff"/>
<rect x="67.8" y="126.0" width="1.9" height="8.1" fill="#2f6bff"/>
<rect x="78.8" y="171.7" width="1.9" height="1.0" fill="#2f6bff"/>
<rect x="80.8" y="166.5" width="1.9" height="5.2" fill="#2f6bff"/>
<rect x="81.8" y="165.8" width="1.9" height="1.0" fill="#2f6bff"/>
<rect x="90.8" y="182.0" width="1.9" height="7.4" fill="#2f6bff"/>
<rect x="97.8" y="192.3" width="1.9" height="5.7" fill="#2f6bff"/>
<rect x="98.8" y="190.9" width="1.9" height="1.5" fill="#2f6bff"/>
<rect x="101.8" y="186.9" width="1.9" height="5.0" fill="#2f6bff"/>
<rect x="119.8" y="302.7" width="1.9" height="1.0" fill="#2f6bff"/>
<rect x="127.8" y="320.9" width="1.9" height="3.5" fill="#2f6bff"/>
<rect x="131.8" y="303.2" width="1.9" height="26.7" fill="#2f6bff"/>
<rect x="133.8" y="296.3" width="1.9" height="6.9" fill="#2f6bff"/>
<rect x="136.8" y="285.3" width="1.9" height="11.3" fill="#2f6bff"/>
<rect x="137.8" y="270.3" width="1.9" height="15.0" fill="#2f6bff"/>
<rect x="139.8" y="254.4" width="1.9" height="15.9" fill="#2f6bff"/>
<rect x="141.8" y="238.7" width="1.9" height="15.6" fill="#2f6bff"/>
<rect x="142.8" y="234.3" width="1.9" height="4.4" fill="#2f6bff"/>
<rect x="144.8" y="229.2" width="1.9" height="5.1" fill="#2f6bff"/>
<rect x="145.8" y="217.0" width="1.9" height="12.2" fill="#2f6bff"/>
<rect x="148.8" y="219.7" width="1.9" height="1.2" fill="#2f6bff"/>
<rect x="161.8" y="236.8" width="1.9" height="6.2" fill="#2f6bff"/>
<rect x="166.8" y="247.8" width="1.9" height="1.2" fill="#2f6bff"/>
<rect x="167.8" y="239.9" width="1.9" height="7.9" fill="#2f6bff"/>
<rect x="169.8" y="228.7" width="1.9" height="11.2" fill="#2f6bff"/>
<rect x="174.8" y="225.0" width="1.9" height="5.7" fill="#2f6bff"/>
<rect x="177.8" y="223.9" width="1.9" height="6.6" fill="#2f6bff"/>
<rect x="178.8" y="221.0" width="1.9" height="3.0" fill="#2f6bff"/>
<rect x="181.8" y="228.0" width="1.9" height="2.4" fill="#2f6bff"/>
<rect x="191.8" y="264.4" width="1.9" height="6.2" fill="#2f6bff"/>
<rect x="192.8" y="256.3" width="1.9" height="8.2" fill="#2f6bff"/>
<rect x="194.8" y="253.4" width="1.9" height="2.9" fill="#2f6bff"/>
<rect x="197.8" y="212.0" width="1.9" height="110.0" fill="#2f6bff"/>
<rect x="199.8" y="186.5" width="1.9" height="25.5" fill="#2f6bff"/>
<rect x="200.8" y="178.2" width="1.9" height="8.4" fill="#2f6bff"/>
<rect x="202.8" y="177.0" width="1.9" height="1.2" fill="#2f6bff"/>
<rect x="208.8" y="191.2" width="1.9" height="1.0" fill="#2f6bff"/>
<rect x="221.8" y="265.7" width="1.9" height="9.3" fill="#2f6bff"/>
<rect x="222.8" y="249.2" width="1.9" height="16.5" fill="#2f6bff"/>
<rect x="224.8" y="227.8" width="1.9" height="21.4" fill="#2f6bff"/>
<rect x="225.8" y="213.8" width="1.9" height="14.0" fill="#2f6bff"/>
<rect x="227.8" y="203.4" width="1.9" height="10.4" fill="#2f6bff"/>
<rect x="228.8" y="199.0" width="1.9" height="4.4" fill="#2f6bff"/>
<rect x="236.8" y="241.4" width="1.9" height="11.5" fill="#2f6bff"/>
<rect x="238.8" y="230.7" width="1.9" height="10.7" fill="#2f6bff"/>
<rect x="239.8" y="212.1" width="1.9" height="18.7" fill="#2f6bff"/>
<rect x="241.8" y="207.0" width="1.9" height="5.1" fill="#2f6bff"/>
<rect x="246.8" y="242.6" width="1.9" height="1.0" fill="#2f6bff"/>
<rect x="247.8" y="237.8" width="1.9" height="4.8" fill="#2f6bff"/>
<rect x="249.8" y="228.4" width="1.9" height="9.4" fill="#2f6bff"/>
<rect x="250.8" y="221.4" width="1.9" height="7.0" fill="#2f6bff"/>
<rect x="264.8" y="286.5" width="1.9" height="6.5" fill="#2f6bff"/>
<rect x="266.8" y="283.0" width="1.9" height="3.5" fill="#2f6bff"/>
<rect x="269.8" y="280.2" width="1.9" height="9.3" fill="#2f6bff"/>
<rect x="271.8" y="271.8" width="1.9" height="8.4" fill="#2f6bff"/>
<rect x="272.8" y="264.1" width="1.9" height="7.7" fill="#2f6bff"/>
<rect x="274.8" y="258.3" width="1.9" height="5.8" fill="#2f6bff"/>
<rect x="275.8" y="254.3" width="1.9" height="3.9" fill="#2f6bff"/>
<rect x="288.8" y="314.6" width="1.9" height="8.4" fill="#2f6bff"/>
<rect x="291.8" y="320.0" width="1.9" height="1.0" fill="#2f6bff"/>
<rect x="296.8" y="350.2" width="1.9" height="2.8" fill="#2f6bff"/>
<rect x="297.8" y="348.4" width="1.9" height="1.8" fill="#2f6bff"/>
<rect x="299.8" y="329.3" width="1.9" height="19.0" fill="#2f6bff"/>
<rect x="300.8" y="319.0" width="1.9" height="10.3" fill="#2f6bff"/>
<rect x="316.8" y="368.9" width="1.9" height="10.1" fill="#2f6bff"/>
<rect x="318.8" y="355.3" width="1.9" height="13.6" fill="#2f6bff"/>
<rect x="319.8" y="336.2" width="1.9" height="19.2" fill="#2f6bff"/>
<rect x="321.8" y="332.3" width="1.9" height="3.8" fill="#2f6bff"/>
<rect x="322.8" y="329.0" width="1.9" height="3.3" fill="#2f6bff"/>
<rect x="329.8" y="337.8" width="1.9" height="19.4" fill="#2f6bff"/>
<rect x="330.8" y="327.5" width="1.9" height="10.4" fill="#2f6bff"/>
<rect x="332.8" y="310.9" width="1.9" height="16.6" fill="#2f6bff"/>
<rect x="335.8" y="307.2" width="1.9" height="6.4" fill="#2f6bff"/>
<rect x="338.8" y="294.9" width="1.9" height="14.0" fill="#2f6bff"/>
<rect x="340.8" y="279.2" width="1.9" height="15.7" fill="#2f6bff"/>
<rect x="341.8" y="277.0" width="1.9" height="2.2" fill="#2f6bff"/>
<rect x="346.8" y="273.8" width="1.9" height="6.4" fill="#2f6bff"/>
<rect x="352.8" y="285.7" width="1.9" height="4.9" fill="#2f6bff"/>
<rect x="354.8" y="281.5" width="1.9" height="4.2" fill="#2f6bff"/>
<rect x="357.8" y="284.1" width="1.9" height="1.5" fill="#2f6bff"/>
<rect x="360.8" y="288.5" width="1.9" height="1.0" fill="#2f6bff"/>
<rect x="362.8" y="282.0" width="1.9" height="6.5" fill="#2f6bff"/>
<rect x="366.8" y="286.6" width="1.9" height="4.5" fill="#2f6bff"/>
<rect x="371.8" y="303.0" width="1.9" height="7.7" fill="#2f6bff"/>
<rect x="374.8" y="292.2" width="1.9" height="16.9" fill="#2f6bff"/>
<rect x="376.8" y="285.0" width="1.9" height="7.2" fill="#2f6bff"/>
<rect x="380.8" y="277.5" width="1.9" height="14.5" fill="#2f6bff"/>
<rect x="382.8" y="251.0" width="1.9" height="26.5" fill="#2f6bff"/>
<rect x="384.8" y="250.6" width="1.9" height="1.0" fill="#2f6bff"/>
<rect x="385.8" y="249.0" width="1.9" height="1.6" fill="#2f6bff"/>
<rect x="391.8" y="253.6" width="1.9" height="10.2" fill="#2f6bff"/>
<rect x="393.8" y="241.5" width="1.9" height="12.2" fill="#2f6bff"/>
<rect x="394.8" y="228.0" width="1.9" height="13.4" fill="#2f6bff"/>
<rect x="396.8" y="224.2" width="1.9" height="3.8" fill="#2f6bff"/>
<rect x="405.8" y="246.7" width="1.9" height="3.1" fill="#2f6bff"/>
<rect x="412.8" y="246.9" width="1.9" height="3.2" fill="#2f6bff"/>
<rect x="416.8" y="254.2" width="1.9" height="10.2" fill="#2f6bff"/>
<rect x="418.8" y="244.9" width="1.9" height="9.3" fill="#2f6bff"/>
<rect x="421.8" y="235.2" width="1.9" height="13.3" fill="#2f6bff"/>
<rect x="423.8" y="211.2" width="1.9" height="24.1" fill="#2f6bff"/>
<rect x="426.8" y="194.2" width="1.9" height="17.9" fill="#2f6bff"/>
<rect x="427.8" y="193.1" width="1.9" height="1.1" fill="#2f6bff"/>
<rect x="429.8" y="189.8" width="1.9" height="3.3" fill="#2f6bff"/>
<rect x="432.8" y="177.1" width="1.9" height="15.0" fill="#2f6bff"/>
<rect x="434.8" y="153.6" width="1.9" height="23.5" fill="#2f6bff"/>
<rect x="435.8" y="142.0" width="1.9" height="11.6" fill="#2f6bff"/>
<rect x="440.8" y="155.2" width="1.9" height="2.8" fill="#2f6bff"/>
<rect x="441.8" y="142.9" width="1.9" height="12.2" fill="#2f6bff"/>
<rect x="443.8" y="119.1" width="1.9" height="23.8" fill="#2f6bff"/>
<rect x="445.8" y="117.1" width="1.9" height="2.0" fill="#2f6bff"/>
<rect x="446.8" y="116.8" width="1.9" height="1.0" fill="#2f6bff"/>
<rect x="451.8" y="121.9" width="1.9" height="2.4" fill="#2f6bff"/>
<rect x="459.8" y="142.9" width="1.9" height="1.2" fill="#2f6bff"/>
<rect x="460.8" y="142.4" width="1.9" height="1.0" fill="#2f6bff"/>
<rect x="463.8" y="143.3" width="1.9" height="1.3" fill="#2f6bff"/>
<rect x="468.8" y="156.5" width="1.9" height="3.4" fill="#2f6bff"/>
<rect x="471.8" y="157.0" width="1.9" height="4.0" fill="#2f6bff"/>
<rect x="473.8" y="156.2" width="1.9" height="1.0" fill="#2f6bff"/>
<rect x="474.8" y="140.6" width="1.9" height="15.6" fill="#2f6bff"/>
<rect x="481.8" y="153.3" width="1.9" height="1.0" fill="#2f6bff"/>
<rect x="488.8" y="162.1" width="1.9" height="10.9" fill="#2f6bff"/>
<rect x="493.8" y="187.8" width="1.9" height="7.5" fill="#2f6bff"/>
<rect x="496.8" y="184.1" width="1.9" height="9.2" fill="#2f6bff"/>
<rect x="498.8" y="181.5" width="1.9" height="2.6" fill="#2f6bff"/>
<rect x="501.8" y="182.2" width="1.9" height="3.2" fill="#2f6bff"/>
<rect x="503.8" y="173.9" width="1.9" height="8.3" fill="#2f6bff"/>
<rect x="504.8" y="172.0" width="1.9" height="1.9" fill="#2f6bff"/>
<rect x="509.8" y="178.4" width="1.9" height="11.8" fill="#2f6bff"/>
<rect x="510.8" y="169.1" width="1.9" height="9.3" fill="#2f6bff"/>
<rect x="512.8" y="164.8" width="1.9" height="4.4" fill="#2f6bff"/>
<rect x="514.8" y="164.2" width="1.9" height="1.0" fill="#2f6bff"/>
<rect x="518.8" y="149.5" width="1.9" height="17.7" fill="#2f6bff"/>
<rect x="520.8" y="132.6" width="1.9" height="16.8" fill="#2f6bff"/>
<rect x="521.8" y="129.2" width="1.9" height="3.4" fill="#2f6bff"/>
<rect x="523.8" y="102.7" width="1.9" height="26.6" fill="#2f6bff"/>
<rect x="525.8" y="101.0" width="1.9" height="1.7" fill="#2f6bff"/>
<rect x="531.8" y="138.1" width="1.9" height="3.4" fill="#2f6bff"/>
<rect x="532.8" y="129.3" width="1.9" height="8.8" fill="#2f6bff"/>
<rect x="534.8" y="122.0" width="1.9" height="7.3" fill="#2f6bff"/>
<rect x="539.8" y="116.0" width="1.9" height="19.1" fill="#2f6bff"/>
<rect x="540.8" y="106.7" width="1.9" height="9.3" fill="#2f6bff"/>
<rect x="542.8" y="103.0" width="1.9" height="3.7" fill="#2f6bff"/>
<rect x="553.8" y="147.1" width="1.9" height="9.3" fill="#2f6bff"/>
<rect x="561.8" y="194.3" width="1.9" height="1.6" fill="#2f6bff"/>
<rect x="562.8" y="193.5" width="1.9" height="1.0" fill="#2f6bff"/>
<rect x="570.8" y="203.4" width="1.9" height="4.6" fill="#2f6bff"/>
<rect x="572.8" y="202.5" width="1.9" height="1.0" fill="#2f6bff"/>
<rect x="581.8" y="231.9" width="1.9" height="9.1" fill="#2f6bff"/>
<rect x="590.8" y="252.7" width="1.9" height="1.0" fill="#2f6bff"/>
<rect x="592.8" y="246.2" width="1.9" height="6.4" fill="#2f6bff"/>
<rect x="593.8" y="235.9" width="1.9" height="10.3" fill="#2f6bff"/>
<rect x="595.8" y="229.0" width="1.9" height="6.9" fill="#2f6bff"/>
<rect x="598.8" y="230.8" width="1.9" height="1.0" fill="#2f6bff"/>
<rect x="606.8" y="255.8" width="1.9" height="1.5" fill="#2f6bff"/>
<rect x="619.8" y="275.5" width="1.9" height="2.5" fill="#2f6bff"/>
<rect x="620.8" y="269.9" width="1.9" height="5.5" fill="#2f6bff"/>
<rect x="622.8" y="265.3" width="1.9" height="4.7" fill="#2f6bff"/>
<rect x="625.8" y="264.8" width="1.9" height="1.0" fill="#2f6bff"/>
<rect x="626.8" y="249.8" width="1.9" height="15.0" fill="#2f6bff"/>
<rect x="630.8" y="244.6" width="1.9" height="8.1" fill="#2f6bff"/>
<rect x="633.8" y="233.0" width="1.9" height="11.6" fill="#2f6bff"/>
<rect x="634.8" y="228.2" width="1.9" height="4.9" fill="#2f6bff"/>
<rect x="636.8" y="224.9" width="1.9" height="3.2" fill="#2f6bff"/>
<rect x="639.8" y="215.5" width="1.9" height="9.8" fill="#2f6bff"/>
<rect x="640.8" y="199.6" width="1.9" height="15.9" fill="#2f6bff"/>
<rect x="642.8" y="196.8" width="1.9" height="2.9" fill="#2f6bff"/>
<rect x="647.8" y="202.6" width="1.9" height="1.0" fill="#2f6bff"/>
<rect x="648.8" y="195.0" width="1.9" height="7.6" fill="#2f6bff"/>
<rect x="659.8" y="207.6" width="1.9" height="7.4" fill="#2f6bff"/>
<rect x="661.8" y="206.7" width="1.9" height="1.0" fill="#2f6bff"/>
<rect x="662.8" y="202.6" width="1.9" height="4.1" fill="#2f6bff"/>
<rect x="664.8" y="201.5" width="1.9" height="1.1" fill="#2f6bff"/>
<rect x="666.8" y="197.0" width="1.9" height="4.5" fill="#2f6bff"/>
<rect x="669.8" y="191.2" width="1.9" height="7.1" fill="#2f6bff"/>
<rect x="677.8" y="210.8" width="1.9" height="3.1" fill="#2f6bff"/>
<rect x="688.8" y="249.3" width="1.9" height="3.7" fill="#2f6bff"/>
<rect x="473" y="191" width="222" height="9" fill="#1e5a8c" fill-opacity="0.5"/>
<line x1="587" y1="99" x2="900" y2="99" stroke="#ee0a0a" stroke-width="1.3"/>
<line x1="587" y1="175.4" x2="900" y2="175.4" stroke="#ee0a0a" stroke-width="1.3"/>
<line x1="587" y1="204" x2="900" y2="204" stroke="#1296d2" stroke-width="1.3"/>
<line x1="587" y1="251.8" x2="900" y2="251.8" stroke="#2cbc18" stroke-width="1.3"/>
<line x1="587" y1="289.9" x2="900" y2="289.9" stroke="#30b214" stroke-width="1.5"/>
<polyline fill="none" stroke="#00e600" stroke-width="1.6" points="322.6,325.8 712,325.8 737.6,277.6"/>
<line x1="545" y1="102.3" x2="633" y2="102.3" stroke="#b4b4bc" stroke-width="1"/>
<line x1="545" y1="140.4" x2="633" y2="140.4" stroke="#1e9ad6" stroke-width="1"/>
<line x1="545" y1="170.5" x2="633" y2="170.5" stroke="#1e9ad6" stroke-width="1"/>
<line x1="545" y1="191.4" x2="633" y2="191.4" stroke="#1e9ad6" stroke-width="1"/>
<line x1="545" y1="280.5" x2="633" y2="280.5" stroke="#b4b4bc" stroke-width="1"/>
<line x1="545" y1="102.3" x2="633" y2="280.5" stroke="#8c8c96" stroke-width="0.9" stroke-dasharray="3,2.5"/>
<text x="574.4" y="100.9" font-family="Liberation Sans, sans-serif" font-size="6.6" fill="#b4b4bc" stroke="#b4b4bc" stroke-width="0.18" text-anchor="start" font-weight="normal" textLength="28.60" lengthAdjust="spacingAndGlyphs">1(1.11766)</text>
<text x="567" y="138.5" font-family="Liberation Sans, sans-serif" font-size="6.6" fill="#1e9ad6" stroke="#1e9ad6" stroke-width="0.18" text-anchor="start" font-weight="normal" textLength="41.90" lengthAdjust="spacingAndGlyphs">0.786(1.11365)</text>
<text x="567" y="168.5" font-family="Liberation Sans, sans-serif" font-size="6.6" fill="#1e9ad6" stroke="#1e9ad6" stroke-width="0.18" text-anchor="start" font-weight="normal" textLength="41.90" lengthAdjust="spacingAndGlyphs">0.618(1.11050)</text>
<text x="570.9" y="189.6" font-family="Liberation Sans, sans-serif" font-size="6.6" fill="#1e9ad6" stroke="#1e9ad6" stroke-width="0.18" text-anchor="start" font-weight="normal" textLength="35.00" lengthAdjust="spacingAndGlyphs">0.5(1.10829)</text>
<text x="573.9" y="279.2" font-family="Liberation Sans, sans-serif" font-size="6.6" fill="#b4b4bc" stroke="#b4b4bc" stroke-width="0.18" text-anchor="start" font-weight="normal" textLength="29.50" lengthAdjust="spacingAndGlyphs">0(1.09893)</text>
<line x1="691.5" y1="194.5" x2="707.3" y2="163.2" stroke="#1eaad8" stroke-width="1.1"/>
<line x1="707.3" y1="163.2" x2="702.77" y2="166.32" stroke="#1eaad8" stroke-width="1.1"/>
<line x1="707.3" y1="163.2" x2="707.48" y2="168.70" stroke="#1eaad8" stroke-width="1.1"/>
<line x1="712.2" y1="174" x2="729.6" y2="200" stroke="#1eaad8" stroke-width="1.1"/>
<line x1="729.6" y1="200" x2="729.11" y2="194.52" stroke="#1eaad8" stroke-width="1.1"/>
<line x1="729.6" y1="200" x2="724.72" y2="197.46" stroke="#1eaad8" stroke-width="1.1"/>
<line x1="735.9" y1="197.3" x2="781.4" y2="94.2" stroke="#1eaad8" stroke-width="1.1"/>
<line x1="781.4" y1="94.2" x2="777.04" y2="97.55" stroke="#1eaad8" stroke-width="1.1"/>
<line x1="781.4" y1="94.2" x2="781.86" y2="99.68" stroke="#1eaad8" stroke-width="1.1"/>
<line x1="712" y1="325.8" x2="737.6" y2="277.6" stroke="#1eaad8" stroke-width="1.1"/>
<line x1="737.6" y1="277.6" x2="733.01" y2="280.63" stroke="#1eaad8" stroke-width="1.1"/>
<line x1="737.6" y1="277.6" x2="737.66" y2="283.10" stroke="#1eaad8" stroke-width="1.1"/>
<path d="M446.8,92.3 C449.3,87.39999999999999 454.90000000000003,87.39999999999999 457.40000000000003,92.3 C454.90000000000003,97.2 449.3,97.2 446.8,92.3Z" fill="none" stroke="#000010" stroke-width="2.6" stroke-opacity="0.6"/>
<path d="M446.8,92.3 C449.3,87.39999999999999 454.90000000000003,87.39999999999999 457.40000000000003,92.3 C454.90000000000003,97.2 449.3,97.2 446.8,92.3Z" fill="none" stroke="#1ee81e" stroke-width="1.3"/>
<circle cx="452.1" cy="91.8" r="2.6" fill="#1ee81e"/>
<path d="M533.2,94.6 C535.7,89.69999999999999 541.3,89.69999999999999 543.8,94.6 C541.3,99.5 535.7,99.5 533.2,94.6Z" fill="none" stroke="#000010" stroke-width="2.6" stroke-opacity="0.6"/>
<path d="M533.2,94.6 C535.7,89.69999999999999 541.3,89.69999999999999 543.8,94.6 C541.3,99.5 535.7,99.5 533.2,94.6Z" fill="none" stroke="#1ee81e" stroke-width="1.3"/>
<circle cx="538.5" cy="94.1" r="2.6" fill="#1ee81e"/>
<rect x="-1.43" y="485.20" width="1.9" height="6.00" fill="#ffcfd0"/>
<rect x="0.14" y="485.20" width="1.9" height="6.43" fill="#ffcfd0"/>
<rect x="1.70" y="485.20" width="1.9" height="7.06" fill="#ff5a52"/>
<rect x="3.27" y="485.20" width="1.9" height="7.69" fill="#ff5a52"/>
<rect x="4.84" y="485.20" width="1.9" height="8.08" fill="#ff5a52"/>
<rect x="6.41" y="485.20" width="1.9" height="8.24" fill="#ff5a52"/>
<rect x="7.97" y="485.20" width="1.9" height="8.39" fill="#ff5a52"/>
<rect x="9.54" y="485.20" width="1.9" height="8.55" fill="#ff5a52"/>
<rect x="11.11" y="485.20" width="1.9" height="8.71" fill="#ffcfd0"/>
<rect x="12.67" y="485.20" width="1.9" height="8.86" fill="#ff5a52"/>
<rect x="14.24" y="485.20" width="1.9" height="8.89" fill="#ff5a52"/>
<rect x="15.81" y="485.20" width="1.9" height="7.95" fill="#ffcfd0"/>
<rect x="17.37" y="485.20" width="1.9" height="7.01" fill="#ffcfd0"/>
<rect x="18.94" y="485.20" width="1.9" height="6.07" fill="#ffcfd0"/>
<rect x="20.51" y="485.20" width="1.9" height="4.54" fill="#ffcfd0"/>
<rect x="22.07" y="485.20" width="1.9" height="2.98" fill="#ffcfd0"/>
<rect x="23.64" y="485.20" width="1.9" height="1.41" fill="#ffcfd0"/>
<rect x="25.21" y="485.20" width="1.9" height="0.23" fill="#ffcfd0"/>
<rect x="26.78" y="484.38" width="1.9" height="0.82" fill="#22a7a3"/>
<rect x="28.34" y="484.02" width="1.9" height="1.18" fill="#22a7a3"/>
<rect x="29.91" y="483.79" width="1.9" height="1.41" fill="#22a7a3"/>
<rect x="31.48" y="483.57" width="1.9" height="1.63" fill="#22a7a3"/>
<rect x="33.04" y="483.34" width="1.9" height="1.86" fill="#22a7a3"/>
<rect x="34.61" y="482.83" width="1.9" height="2.37" fill="#22a7a3"/>
<rect x="36.18" y="481.78" width="1.9" height="3.42" fill="#22a7a3"/>
<rect x="37.75" y="481.00" width="1.9" height="4.20" fill="#22a7a3"/>
<rect x="39.31" y="480.55" width="1.9" height="4.65" fill="#22a7a3"/>
<rect x="40.88" y="480.11" width="1.9" height="5.09" fill="#22a7a3"/>
<rect x="42.45" y="479.66" width="1.9" height="5.54" fill="#d8ece8"/>
<rect x="44.01" y="479.21" width="1.9" height="5.99" fill="#22a7a3"/>
<rect x="45.58" y="479.01" width="1.9" height="6.19" fill="#22a7a3"/>
<rect x="47.15" y="478.81" width="1.9" height="6.39" fill="#22a7a3"/>
<rect x="48.71" y="479.47" width="1.9" height="5.73" fill="#d8ece8"/>
<rect x="50.28" y="481.30" width="1.9" height="3.90" fill="#d8ece8"/>
<rect x="51.85" y="482.33" width="1.9" height="2.87" fill="#d8ece8"/>
<rect x="53.42" y="482.59" width="1.9" height="2.61" fill="#d8ece8"/>
<rect x="54.98" y="482.98" width="1.9" height="2.22" fill="#d8ece8"/>
<rect x="56.55" y="483.45" width="1.9" height="1.75" fill="#d8ece8"/>
<rect x="58.12" y="483.92" width="1.9" height="1.28" fill="#d8ece8"/>
<rect x="59.68" y="484.52" width="1.9" height="0.68" fill="#d8ece8"/>
<rect x="61.25" y="485.20" width="1.9" height="0.03" fill="#ff5a52"/>
<rect x="62.82" y="485.20" width="1.9" height="0.29" fill="#ff5a52"/>
<rect x="64.38" y="484.78" width="1.9" height="0.42" fill="#22a7a3"/>
<rect x="65.95" y="480.47" width="1.9" height="4.73" fill="#22a7a3"/>
<rect x="67.52" y="478.00" width="1.9" height="7.20" fill="#22a7a3"/>
<rect x="69.08" y="475.65" width="1.9" height="9.55" fill="#22a7a3"/>
<rect x="70.65" y="474.80" width="1.9" height="10.40" fill="#d8ece8"/>
<rect x="72.22" y="476.37" width="1.9" height="8.83" fill="#d8ece8"/>
<rect x="73.79" y="477.94" width="1.9" height="7.26" fill="#22a7a3"/>
<rect x="75.35" y="479.24" width="1.9" height="5.96" fill="#d8ece8"/>
<rect x="76.92" y="480.50" width="1.9" height="4.70" fill="#d8ece8"/>
<rect x="78.49" y="481.75" width="1.9" height="3.45" fill="#d8ece8"/>
<rect x="80.05" y="482.70" width="1.9" height="2.50" fill="#22a7a3"/>
<rect x="81.62" y="483.49" width="1.9" height="1.71" fill="#d8ece8"/>
<rect x="83.19" y="484.27" width="1.9" height="0.93" fill="#d8ece8"/>
<rect x="84.76" y="485.05" width="1.9" height="0.15" fill="#d8ece8"/>
<rect x="86.32" y="485.20" width="1.9" height="0.64" fill="#ff5a52"/>
<rect x="87.89" y="485.20" width="1.9" height="1.12" fill="#ff5a52"/>
<rect x="89.46" y="485.20" width="1.9" height="1.34" fill="#ff5a52"/>
<rect x="91.02" y="485.20" width="1.9" height="1.57" fill="#ff5a52"/>
<rect x="92.59" y="485.20" width="1.9" height="1.79" fill="#ff5a52"/>
<rect x="94.16" y="485.20" width="1.9" height="2.02" fill="#ff5a52"/>
<rect x="95.72" y="485.20" width="1.9" height="2.33" fill="#ff5a52"/>
<rect x="97.29" y="485.20" width="1.9" height="2.65" fill="#ff5a52"/>
<rect x="98.86" y="485.20" width="1.9" height="2.96" fill="#ff5a52"/>
<rect x="100.42" y="485.20" width="1.9" height="3.27" fill="#ff5a52"/>
<rect x="101.99" y="485.20" width="1.9" height="3.59" fill="#ffcfd0"/>
<rect x="103.56" y="485.20" width="1.9" height="3.90" fill="#ff5a52"/>
<rect x="105.13" y="485.20" width="1.9" height="4.15" fill="#ff5a52"/>
<rect x="106.69" y="485.20" width="1.9" height="4.38" fill="#ffcfd0"/>
<rect x="108.26" y="485.20" width="1.9" height="4.60" fill="#ff5a52"/>
<rect x="109.83" y="485.20" width="1.9" height="4.83" fill="#ff5a52"/>
<rect x="111.39" y="485.20" width="1.9" height="5.34" fill="#ffcfd0"/>
<rect x="112.96" y="485.20" width="1.9" height="6.91" fill="#ff5a52"/>
<rect x="114.53" y="485.20" width="1.9" height="8.48" fill="#ff5a52"/>
<rect x="116.10" y="485.20" width="1.9" height="9.98" fill="#ff5a52"/>
<rect x="117.66" y="485.20" width="1.9" height="9.40" fill="#ffcfd0"/>
<rect x="119.23" y="485.20" width="1.9" height="8.81" fill="#ffcfd0"/>
<rect x="120.80" y="485.20" width="1.9" height="8.22" fill="#ffcfd0"/>
<rect x="122.36" y="485.20" width="1.9" height="7.63" fill="#ffcfd0"/>
<rect x="123.93" y="485.20" width="1.9" height="7.05" fill="#ffcfd0"/>
<rect x="125.50" y="485.20" width="1.9" height="5.91" fill="#ffcfd0"/>
<rect x="127.06" y="485.20" width="1.9" height="4.74" fill="#ffcfd0"/>
<rect x="128.63" y="485.20" width="1.9" height="3.56" fill="#ffcfd0"/>
<rect x="130.20" y="485.20" width="1.9" height="2.39" fill="#ffcfd0"/>
<rect x="131.77" y="485.20" width="1.9" height="1.21" fill="#ffcfd0"/>
<rect x="133.33" y="484.92" width="1.9" height="0.28" fill="#d8ece8"/>
<rect x="134.90" y="482.84" width="1.9" height="2.36" fill="#22a7a3"/>
<rect x="136.47" y="480.33" width="1.9" height="4.87" fill="#22a7a3"/>
<rect x="138.03" y="477.83" width="1.9" height="7.37" fill="#22a7a3"/>
<rect x="139.60" y="475.54" width="1.9" height="9.66" fill="#22a7a3"/>
<rect x="141.17" y="473.66" width="1.9" height="11.54" fill="#22a7a3"/>
<rect x="142.73" y="471.78" width="1.9" height="13.42" fill="#22a7a3"/>
<rect x="144.30" y="470.20" width="1.9" height="15.00" fill="#22a7a3"/>
<rect x="145.87" y="470.20" width="1.9" height="15.00" fill="#22a7a3"/>
<rect x="147.44" y="470.20" width="1.9" height="15.00" fill="#22a7a3"/>
<rect x="149.00" y="470.20" width="1.9" height="15.00" fill="#22a7a3"/>
<rect x="150.57" y="472.02" width="1.9" height="13.18" fill="#d8ece8"/>
<rect x="152.14" y="473.90" width="1.9" height="11.30" fill="#d8ece8"/>
<rect x="153.70" y="475.78" width="1.9" height="9.42" fill="#d8ece8"/>
<rect x="155.27" y="477.18" width="1.9" height="8.02" fill="#d8ece8"/>
<rect x="156.84" y="478.43" width="1.9" height="6.77" fill="#22a7a3"/>
<rect x="158.40" y="479.68" width="1.9" height="5.52" fill="#d8ece8"/>
<rect x="159.97" y="481.35" width="1.9" height="3.85" fill="#d8ece8"/>
<rect x="161.54" y="483.31" width="1.9" height="1.89" fill="#d8ece8"/>
<rect x="163.11" y="485.19" width="1.9" height="0.01" fill="#d8ece8"/>
<rect x="164.67" y="484.79" width="1.9" height="0.41" fill="#22a7a3"/>
<rect x="166.24" y="484.40" width="1.9" height="0.80" fill="#22a7a3"/>
<rect x="167.81" y="484.01" width="1.9" height="1.19" fill="#22a7a3"/>
<rect x="169.37" y="483.62" width="1.9" height="1.58" fill="#22a7a3"/>
<rect x="170.94" y="483.23" width="1.9" height="1.97" fill="#d8ece8"/>
<rect x="172.51" y="483.20" width="1.9" height="2.00" fill="#22a7a3"/>
<rect x="174.07" y="483.22" width="1.9" height="1.98" fill="#d8ece8"/>
<rect x="175.64" y="484.26" width="1.9" height="0.94" fill="#d8ece8"/>
<rect x="177.21" y="485.20" width="1.9" height="0.02" fill="#ff5a52"/>
<rect x="178.78" y="485.20" width="1.9" height="0.22" fill="#ff5a52"/>
<rect x="180.34" y="485.20" width="1.9" height="0.41" fill="#ff5a52"/>
<rect x="181.91" y="485.20" width="1.9" height="0.82" fill="#ff5a52"/>
<rect x="183.48" y="485.20" width="1.9" height="1.41" fill="#ff5a52"/>
<rect x="185.04" y="485.20" width="1.9" height="2.00" fill="#ff5a52"/>
<rect x="186.61" y="485.20" width="1.9" height="3.17" fill="#ff5a52"/>
<rect x="188.18" y="485.20" width="1.9" height="4.35" fill="#ff5a52"/>
<rect x="189.74" y="485.20" width="1.9" height="5.17" fill="#ffcfd0"/>
<rect x="191.31" y="485.20" width="1.9" height="5.57" fill="#ff5a52"/>
<rect x="192.88" y="485.20" width="1.9" height="5.96" fill="#ff5a52"/>
<rect x="194.45" y="485.20" width="1.9" height="6.00" fill="#ff5a52"/>
<rect x="196.01" y="485.20" width="1.9" height="6.00" fill="#ff5a52"/>
<rect x="197.58" y="485.20" width="1.9" height="4.15" fill="#ffcfd0"/>
<rect x="199.15" y="484.08" width="1.9" height="1.12" fill="#22a7a3"/>
<rect x="200.71" y="482.12" width="1.9" height="3.08" fill="#d8ece8"/>
<rect x="202.28" y="480.16" width="1.9" height="5.04" fill="#d8ece8"/>
<rect x="203.85" y="478.60" width="1.9" height="6.60" fill="#22a7a3"/>
<rect x="205.41" y="477.43" width="1.9" height="7.77" fill="#22a7a3"/>
<rect x="206.98" y="476.25" width="1.9" height="8.95" fill="#22a7a3"/>
<rect x="208.55" y="476.95" width="1.9" height="8.25" fill="#22a7a3"/>
<rect x="210.12" y="477.73" width="1.9" height="7.47" fill="#22a7a3"/>
<rect x="211.68" y="478.83" width="1.9" height="6.37" fill="#d8ece8"/>
<rect x="213.25" y="480.40" width="1.9" height="4.80" fill="#d8ece8"/>
<rect x="214.82" y="481.97" width="1.9" height="3.23" fill="#d8ece8"/>
<rect x="216.38" y="484.20" width="1.9" height="1.00" fill="#22a7a3"/>
<rect x="217.95" y="485.20" width="1.9" height="1.80" fill="#ff5a52"/>
<rect x="219.52" y="485.20" width="1.9" height="4.37" fill="#ff5a52"/>
<rect x="221.08" y="485.20" width="1.9" height="5.63" fill="#ffcfd0"/>
<rect x="222.65" y="485.20" width="1.9" height="6.88" fill="#ff5a52"/>
<rect x="224.22" y="485.20" width="1.9" height="7.78" fill="#ff5a52"/>
<rect x="225.79" y="485.20" width="1.9" height="5.69" fill="#ffcfd0"/>
<rect x="227.35" y="485.20" width="1.9" height="3.70" fill="#ffcfd0"/>
<rect x="228.92" y="485.20" width="1.9" height="2.13" fill="#ffcfd0"/>
<rect x="230.49" y="485.20" width="1.9" height="0.56" fill="#ffcfd0"/>
<rect x="232.05" y="484.20" width="1.9" height="1.00" fill="#22a7a3"/>
<rect x="233.62" y="483.68" width="1.9" height="1.52" fill="#22a7a3"/>
<rect x="235.19" y="483.23" width="1.9" height="1.97" fill="#22a7a3"/>
<rect x="236.75" y="483.63" width="1.9" height="1.57" fill="#d8ece8"/>
<rect x="238.32" y="484.02" width="1.9" height="1.18" fill="#d8ece8"/>
<rect x="239.89" y="484.54" width="1.9" height="0.66" fill="#d8ece8"/>
<rect x="241.46" y="485.16" width="1.9" height="0.04" fill="#d8ece8"/>
<rect x="243.02" y="485.20" width="1.9" height="0.59" fill="#ff5a52"/>
<rect x="244.59" y="485.20" width="1.9" height="0.95" fill="#ff5a52"/>
<rect x="246.16" y="485.20" width="1.9" height="0.79" fill="#ffcfd0"/>
<rect x="247.72" y="485.20" width="1.9" height="0.63" fill="#ff5a52"/>
<rect x="249.29" y="485.20" width="1.9" height="0.62" fill="#ffcfd0"/>
<rect x="250.86" y="485.20" width="1.9" height="1.40" fill="#ffcfd0"/>
<rect x="252.42" y="485.20" width="1.9" height="2.19" fill="#ff5a52"/>
<rect x="253.99" y="485.20" width="1.9" height="2.97" fill="#ffcfd0"/>
<rect x="255.56" y="485.20" width="1.9" height="3.60" fill="#ff5a52"/>
<rect x="257.12" y="485.20" width="1.9" height="4.23" fill="#ff5a52"/>
<rect x="258.69" y="485.20" width="1.9" height="4.86" fill="#ff5a52"/>
<rect x="260.26" y="485.20" width="1.9" height="5.00" fill="#ff5a52"/>
<rect x="261.83" y="485.20" width="1.9" height="5.00" fill="#ff5a52"/>
<rect x="263.39" y="485.20" width="1.9" height="5.00" fill="#ffcfd0"/>
<rect x="264.96" y="485.20" width="1.9" height="4.45" fill="#ffcfd0"/>
<rect x="266.53" y="485.20" width="1.9" height="3.51" fill="#ffcfd0"/>
<rect x="268.09" y="485.20" width="1.9" height="2.57" fill="#ffcfd0"/>
<rect x="269.66" y="485.20" width="1.9" height="1.63" fill="#ffcfd0"/>
<rect x="271.23" y="485.20" width="1.9" height="0.69" fill="#ffcfd0"/>
<rect x="272.80" y="484.95" width="1.9" height="0.25" fill="#22a7a3"/>
<rect x="274.36" y="484.15" width="1.9" height="1.05" fill="#22a7a3"/>
<rect x="275.93" y="483.89" width="1.9" height="1.31" fill="#d8ece8"/>
<rect x="277.50" y="483.87" width="1.9" height="1.33" fill="#22a7a3"/>
<rect x="279.06" y="484.45" width="1.9" height="0.75" fill="#d8ece8"/>
<rect x="280.63" y="485.04" width="1.9" height="0.16" fill="#22a7a3"/>
<rect x="282.20" y="485.20" width="1.9" height="1.53" fill="#ff5a52"/>
<rect x="283.76" y="485.20" width="1.9" height="3.62" fill="#ff5a52"/>
<rect x="285.33" y="485.20" width="1.9" height="4.18" fill="#ff5a52"/>
<rect x="286.90" y="485.20" width="1.9" height="4.41" fill="#ff5a52"/>
<rect x="288.47" y="485.20" width="1.9" height="4.63" fill="#ff5a52"/>
<rect x="290.03" y="485.20" width="1.9" height="4.85" fill="#ff5a52"/>
<rect x="291.60" y="485.20" width="1.9" height="4.91" fill="#ff5a52"/>
<rect x="293.17" y="485.20" width="1.9" height="4.65" fill="#ffcfd0"/>
<rect x="294.73" y="485.20" width="1.9" height="4.39" fill="#ff5a52"/>
<rect x="296.30" y="485.20" width="1.9" height="4.12" fill="#ffcfd0"/>
<rect x="297.87" y="485.20" width="1.9" height="3.39" fill="#ffcfd0"/>
<rect x="299.43" y="485.20" width="1.9" height="2.21" fill="#ffcfd0"/>
<rect x="301.00" y="485.20" width="1.9" height="1.04" fill="#ffcfd0"/>
<rect x="302.57" y="484.68" width="1.9" height="0.52" fill="#22a7a3"/>
<rect x="304.14" y="483.18" width="1.9" height="2.02" fill="#22a7a3"/>
<rect x="305.70" y="482.79" width="1.9" height="2.41" fill="#22a7a3"/>
<rect x="307.27" y="482.40" width="1.9" height="2.80" fill="#22a7a3"/>
<rect x="308.84" y="482.79" width="1.9" height="2.41" fill="#d8ece8"/>
<rect x="310.40" y="483.96" width="1.9" height="1.24" fill="#d8ece8"/>
<rect x="311.97" y="485.14" width="1.9" height="0.06" fill="#d8ece8"/>
<rect x="313.54" y="485.20" width="1.9" height="0.37" fill="#ff5a52"/>
<rect x="315.10" y="485.20" width="1.9" height="0.76" fill="#ff5a52"/>
<rect x="316.67" y="485.20" width="1.9" height="1.00" fill="#ff5a52"/>
<rect x="318.24" y="485.20" width="1.9" height="1.00" fill="#ffcfd0"/>
<rect x="319.81" y="485.20" width="1.9" height="1.00" fill="#ffcfd0"/>
<rect x="321.37" y="480.91" width="1.9" height="4.29" fill="#22a7a3"/>
<rect x="322.94" y="477.82" width="1.9" height="7.38" fill="#22a7a3"/>
<rect x="324.51" y="477.15" width="1.9" height="8.05" fill="#22a7a3"/>
<rect x="326.07" y="476.48" width="1.9" height="8.72" fill="#22a7a3"/>
<rect x="327.64" y="475.80" width="1.9" height="9.40" fill="#22a7a3"/>
<rect x="329.21" y="475.22" width="1.9" height="9.98" fill="#22a7a3"/>
<rect x="330.77" y="475.45" width="1.9" height="9.75" fill="#d8ece8"/>
<rect x="332.34" y="475.67" width="1.9" height="9.53" fill="#d8ece8"/>
<rect x="333.91" y="475.89" width="1.9" height="9.31" fill="#d8ece8"/>
<rect x="335.48" y="476.12" width="1.9" height="9.08" fill="#d8ece8"/>
<rect x="337.04" y="476.70" width="1.9" height="8.50" fill="#d8ece8"/>
<rect x="338.61" y="477.48" width="1.9" height="7.72" fill="#d8ece8"/>
<rect x="340.18" y="478.26" width="1.9" height="6.94" fill="#22a7a3"/>
<rect x="341.74" y="479.05" width="1.9" height="6.15" fill="#d8ece8"/>
<rect x="343.31" y="479.83" width="1.9" height="5.37" fill="#d8ece8"/>
<rect x="344.88" y="480.50" width="1.9" height="4.70" fill="#d8ece8"/>
<rect x="346.44" y="481.06" width="1.9" height="4.14" fill="#22a7a3"/>
<rect x="348.01" y="481.61" width="1.9" height="3.59" fill="#d8ece8"/>
<rect x="349.58" y="482.17" width="1.9" height="3.03" fill="#22a7a3"/>
<rect x="351.15" y="482.72" width="1.9" height="2.48" fill="#d8ece8"/>
<rect x="352.71" y="483.12" width="1.9" height="2.08" fill="#d8ece8"/>
<rect x="354.28" y="483.51" width="1.9" height="1.69" fill="#d8ece8"/>
<rect x="355.85" y="483.90" width="1.9" height="1.30" fill="#d8ece8"/>
<rect x="357.41" y="484.29" width="1.9" height="0.91" fill="#d8ece8"/>
<rect x="358.98" y="484.68" width="1.9" height="0.52" fill="#d8ece8"/>
<rect x="360.55" y="485.20" width="1.9" height="0.06" fill="#ff5a52"/>
<rect x="362.11" y="485.20" width="1.9" height="0.65" fill="#ff5a52"/>
<rect x="363.68" y="485.20" width="1.9" height="1.24" fill="#ff5a52"/>
<rect x="365.25" y="485.20" width="1.9" height="1.82" fill="#ff5a52"/>
<rect x="366.81" y="485.20" width="1.9" height="2.41" fill="#ff5a52"/>
<rect x="368.38" y="485.20" width="1.9" height="3.00" fill="#ff5a52"/>
<rect x="369.95" y="485.20" width="1.9" height="3.59" fill="#ff5a52"/>
<rect x="371.52" y="485.20" width="1.9" height="3.84" fill="#ff5a52"/>
<rect x="373.08" y="485.20" width="1.9" height="3.32" fill="#ffcfd0"/>
<rect x="374.65" y="485.20" width="1.9" height="2.80" fill="#ffcfd0"/>
<rect x="376.22" y="485.20" width="1.9" height="2.28" fill="#ff5a52"/>
<rect x="377.78" y="485.20" width="1.9" height="1.63" fill="#ffcfd0"/>
<rect x="379.35" y="485.20" width="1.9" height="0.85" fill="#ff5a52"/>
<rect x="380.92" y="485.20" width="1.9" height="0.07" fill="#ffcfd0"/>
<rect x="382.49" y="483.41" width="1.9" height="1.79" fill="#22a7a3"/>
<rect x="384.05" y="481.45" width="1.9" height="3.75" fill="#22a7a3"/>
<rect x="385.62" y="480.29" width="1.9" height="4.91" fill="#22a7a3"/>
<rect x="387.19" y="480.56" width="1.9" height="4.64" fill="#d8ece8"/>
<rect x="388.75" y="480.82" width="1.9" height="4.38" fill="#d8ece8"/>
<rect x="390.32" y="481.08" width="1.9" height="4.12" fill="#d8ece8"/>
<rect x="391.89" y="481.76" width="1.9" height="3.44" fill="#d8ece8"/>
<rect x="393.45" y="482.80" width="1.9" height="2.40" fill="#d8ece8"/>
<rect x="395.02" y="481.91" width="1.9" height="3.29" fill="#22a7a3"/>
<rect x="396.59" y="479.82" width="1.9" height="5.38" fill="#22a7a3"/>
<rect x="398.16" y="479.86" width="1.9" height="5.34" fill="#d8ece8"/>
<rect x="399.72" y="480.80" width="1.9" height="4.40" fill="#d8ece8"/>
<rect x="401.29" y="481.74" width="1.9" height="3.46" fill="#d8ece8"/>
<rect x="402.86" y="482.80" width="1.9" height="2.40" fill="#22a7a3"/>
<rect x="404.42" y="483.98" width="1.9" height="1.22" fill="#d8ece8"/>
<rect x="405.99" y="485.15" width="1.9" height="0.05" fill="#22a7a3"/>
<rect x="407.56" y="485.20" width="1.9" height="1.00" fill="#ffcfd0"/>
<rect x="409.12" y="485.20" width="1.9" height="2.01" fill="#ff5a52"/>
<rect x="410.69" y="485.20" width="1.9" height="2.33" fill="#ff5a52"/>
<rect x="412.26" y="485.20" width="1.9" height="2.64" fill="#ff5a52"/>
<rect x="413.83" y="485.20" width="1.9" height="2.96" fill="#ff5a52"/>
<rect x="415.39" y="485.20" width="1.9" height="2.73" fill="#ff5a52"/>
<rect x="416.96" y="485.20" width="1.9" height="2.42" fill="#ffcfd0"/>
<rect x="418.53" y="485.20" width="1.9" height="2.10" fill="#ffcfd0"/>
<rect x="420.09" y="485.20" width="1.9" height="1.48" fill="#ffcfd0"/>
<rect x="421.66" y="485.20" width="1.9" height="0.69" fill="#ffcfd0"/>
<rect x="423.23" y="484.96" width="1.9" height="0.24" fill="#22a7a3"/>
<rect x="424.79" y="483.98" width="1.9" height="1.22" fill="#22a7a3"/>
<rect x="426.36" y="482.99" width="1.9" height="2.21" fill="#d8ece8"/>
<rect x="427.93" y="481.95" width="1.9" height="3.25" fill="#22a7a3"/>
<rect x="429.50" y="480.90" width="1.9" height="4.30" fill="#22a7a3"/>
<rect x="431.06" y="479.86" width="1.9" height="5.34" fill="#d8ece8"/>
<rect x="432.63" y="478.85" width="1.9" height="6.35" fill="#d8ece8"/>
<rect x="434.20" y="477.91" width="1.9" height="7.29" fill="#d8ece8"/>
<rect x="435.76" y="476.97" width="1.9" height="8.23" fill="#22a7a3"/>
<rect x="437.33" y="476.28" width="1.9" height="8.92" fill="#d8ece8"/>
<rect x="438.90" y="476.73" width="1.9" height="8.47" fill="#d8ece8"/>
<rect x="440.46" y="477.18" width="1.9" height="8.02" fill="#22a7a3"/>
<rect x="442.03" y="477.62" width="1.9" height="7.58" fill="#d8ece8"/>
<rect x="443.60" y="478.07" width="1.9" height="7.13" fill="#22a7a3"/>
<rect x="445.17" y="479.09" width="1.9" height="6.11" fill="#22a7a3"/>
<rect x="446.73" y="480.35" width="1.9" height="4.85" fill="#d8ece8"/>
<rect x="448.30" y="481.60" width="1.9" height="3.60" fill="#d8ece8"/>
<rect x="449.87" y="482.81" width="1.9" height="2.39" fill="#d8ece8"/>
<rect x="451.43" y="483.99" width="1.9" height="1.21" fill="#d8ece8"/>
<rect x="453.00" y="485.16" width="1.9" height="0.04" fill="#22a7a3"/>
<rect x="454.57" y="485.20" width="1.9" height="1.14" fill="#ff5a52"/>
<rect x="456.13" y="485.20" width="1.9" height="2.31" fill="#ff5a52"/>
<rect x="457.70" y="485.20" width="1.9" height="3.37" fill="#ff5a52"/>
<rect x="459.27" y="485.20" width="1.9" height="4.27" fill="#ff5a52"/>
<rect x="460.83" y="485.20" width="1.9" height="5.16" fill="#ffcfd0"/>
<rect x="462.40" y="485.20" width="1.9" height="6.06" fill="#ff5a52"/>
<rect x="463.97" y="485.20" width="1.9" height="6.95" fill="#ff5a52"/>
<rect x="465.54" y="485.20" width="1.9" height="7.74" fill="#ff5a52"/>
<rect x="467.10" y="485.20" width="1.9" height="8.53" fill="#ff5a52"/>
<rect x="468.67" y="485.20" width="1.9" height="9.31" fill="#ff5a52"/>
<rect x="470.24" y="485.20" width="1.9" height="8.81" fill="#ffcfd0"/>
<rect x="471.80" y="485.20" width="1.9" height="7.89" fill="#ffcfd0"/>
<rect x="473.37" y="485.20" width="1.9" height="6.98" fill="#ff5a52"/>
<rect x="474.94" y="485.20" width="1.9" height="6.07" fill="#ff5a52"/>
<rect x="476.51" y="485.20" width="1.9" height="4.79" fill="#ffcfd0"/>
<rect x="478.07" y="485.20" width="1.9" height="3.48" fill="#ffcfd0"/>
<rect x="479.64" y="485.20" width="1.9" height="2.18" fill="#ff5a52"/>
<rect x="481.21" y="485.20" width="1.9" height="1.39" fill="#ffcfd0"/>
<rect x="482.77" y="485.20" width="1.9" height="5.31" fill="#ff5a52"/>
<rect x="484.34" y="485.20" width="1.9" height="6.00" fill="#ffcfd0"/>
<rect x="485.91" y="485.20" width="1.9" height="6.00" fill="#ffcfd0"/>
<rect x="487.47" y="485.20" width="1.9" height="6.00" fill="#ffcfd0"/>
<rect x="489.04" y="485.20" width="1.9" height="6.00" fill="#ff5a52"/>
<rect x="490.61" y="485.20" width="1.9" height="5.33" fill="#ffcfd0"/>
<rect x="492.18" y="485.20" width="1.9" height="4.66" fill="#ffcfd0"/>
<rect x="493.74" y="485.20" width="1.9" height="3.99" fill="#ffcfd0"/>
<rect x="495.31" y="485.20" width="1.9" height="3.32" fill="#ffcfd0"/>
<rect x="496.88" y="485.20" width="1.9" height="2.69" fill="#ff5a52"/>
<rect x="498.44" y="485.20" width="1.9" height="2.10" fill="#ffcfd0"/>
<rect x="500.01" y="485.20" width="1.9" height="1.51" fill="#ffcfd0"/>
<rect x="501.58" y="485.20" width="1.9" height="0.93" fill="#ffcfd0"/>
<rect x="503.14" y="485.20" width="1.9" height="0.34" fill="#ffcfd0"/>
<rect x="504.71" y="484.94" width="1.9" height="0.26" fill="#22a7a3"/>
<rect x="506.28" y="484.31" width="1.9" height="0.89" fill="#22a7a3"/>
<rect x="507.85" y="483.68" width="1.9" height="1.52" fill="#22a7a3"/>
<rect x="509.41" y="483.16" width="1.9" height="2.04" fill="#22a7a3"/>
<rect x="510.98" y="483.01" width="1.9" height="2.19" fill="#22a7a3"/>
<rect x="512.55" y="482.85" width="1.9" height="2.35" fill="#22a7a3"/>
<rect x="514.11" y="482.69" width="1.9" height="2.51" fill="#22a7a3"/>
<rect x="515.68" y="482.54" width="1.9" height="2.66" fill="#d8ece8"/>
<rect x="517.25" y="482.38" width="1.9" height="2.82" fill="#22a7a3"/>
<rect x="518.81" y="482.22" width="1.9" height="2.98" fill="#22a7a3"/>
<rect x="520.38" y="480.20" width="1.9" height="5.00" fill="#22a7a3"/>
<rect x="521.95" y="478.48" width="1.9" height="6.72" fill="#22a7a3"/>
<rect x="523.51" y="477.23" width="1.9" height="7.97" fill="#22a7a3"/>
<rect x="525.08" y="475.97" width="1.9" height="9.23" fill="#22a7a3"/>
<rect x="526.65" y="475.60" width="1.9" height="9.60" fill="#22a7a3"/>
<rect x="528.22" y="476.64" width="1.9" height="8.56" fill="#d8ece8"/>
<rect x="529.78" y="477.79" width="1.9" height="7.41" fill="#d8ece8"/>
<rect x="531.35" y="479.04" width="1.9" height="6.16" fill="#d8ece8"/>
<rect x="532.92" y="480.29" width="1.9" height="4.91" fill="#d8ece8"/>
<rect x="534.48" y="481.63" width="1.9" height="3.57" fill="#d8ece8"/>
<rect x="536.05" y="483.20" width="1.9" height="2.00" fill="#d8ece8"/>
<rect x="537.62" y="484.27" width="1.9" height="0.93" fill="#d8ece8"/>
<rect x="539.18" y="484.47" width="1.9" height="0.73" fill="#d8ece8"/>
<rect x="540.75" y="484.66" width="1.9" height="0.54" fill="#d8ece8"/>
<rect x="542.32" y="484.70" width="1.9" height="0.50" fill="#d8ece8"/>
<rect x="543.89" y="484.70" width="1.9" height="0.50" fill="#d8ece8"/>
<rect x="545.45" y="484.70" width="1.9" height="0.50" fill="#22a7a3"/>
<rect x="547.02" y="484.70" width="1.9" height="0.50" fill="#22a7a3"/>
<rect x="548.59" y="485.20" width="1.9" height="1.42" fill="#ff5a52"/>
<rect x="550.15" y="485.20" width="1.9" height="2.88" fill="#ff5a52"/>
<rect x="551.72" y="485.20" width="1.9" height="4.14" fill="#ff5a52"/>
<rect x="553.29" y="485.20" width="1.9" height="5.39" fill="#ffcfd0"/>
<rect x="554.86" y="485.20" width="1.9" height="6.81" fill="#ff5a52"/>
<rect x="556.42" y="485.20" width="1.9" height="8.37" fill="#ff5a52"/>
<rect x="557.99" y="485.20" width="1.9" height="9.94" fill="#ff5a52"/>
<rect x="559.56" y="485.20" width="1.9" height="11.17" fill="#ff5a52"/>
<rect x="561.12" y="485.20" width="1.9" height="11.69" fill="#ff5a52"/>
<rect x="562.69" y="485.20" width="1.9" height="11.52" fill="#ffcfd0"/>
<rect x="564.26" y="485.20" width="1.9" height="10.34" fill="#ffcfd0"/>
<rect x="565.82" y="485.20" width="1.9" height="9.17" fill="#ffcfd0"/>
<rect x="567.39" y="485.20" width="1.9" height="7.66" fill="#ffcfd0"/>
<rect x="568.96" y="485.20" width="1.9" height="6.09" fill="#ffcfd0"/>
<rect x="570.52" y="485.20" width="1.9" height="4.95" fill="#ff5a52"/>
<rect x="572.09" y="485.20" width="1.9" height="3.83" fill="#ffcfd0"/>
<rect x="573.66" y="485.20" width="1.9" height="2.71" fill="#ffcfd0"/>
<rect x="575.23" y="485.20" width="1.9" height="1.59" fill="#ffcfd0"/>
<rect x="576.79" y="485.20" width="1.9" height="0.75" fill="#ffcfd0"/>
<rect x="578.36" y="485.20" width="1.9" height="0.23" fill="#ffcfd0"/>
<rect x="579.93" y="485.20" width="1.9" height="0.66" fill="#ff5a52"/>
<rect x="581.49" y="485.20" width="1.9" height="1.83" fill="#ff5a52"/>
<rect x="583.06" y="485.20" width="1.9" height="3.00" fill="#ff5a52"/>
<rect x="584.63" y="485.20" width="1.9" height="3.00" fill="#ffcfd0"/>
<rect x="586.19" y="485.20" width="1.9" height="3.00" fill="#ffcfd0"/>
<rect x="587.76" y="485.20" width="1.9" height="3.00" fill="#ffcfd0"/>
<rect x="589.33" y="485.20" width="1.9" height="3.00" fill="#ffcfd0"/>
<rect x="590.90" y="485.20" width="1.9" height="3.00" fill="#ffcfd0"/>
<rect x="592.46" y="485.20" width="1.9" height="2.38" fill="#ffcfd0"/>
<rect x="594.03" y="485.20" width="1.9" height="0.03" fill="#ff5a52"/>
<rect x="595.60" y="483.65" width="1.9" height="1.55" fill="#22a7a3"/>
<rect x="597.16" y="482.20" width="1.9" height="3.00" fill="#22a7a3"/>
<rect x="598.73" y="482.20" width="1.9" height="3.00" fill="#22a7a3"/>
<rect x="600.30" y="482.20" width="1.9" height="3.00" fill="#22a7a3"/>
<rect x="601.87" y="482.20" width="1.9" height="3.00" fill="#22a7a3"/>
<rect x="603.43" y="482.20" width="1.9" height="3.00" fill="#22a7a3"/>
<rect x="605.00" y="482.83" width="1.9" height="2.37" fill="#d8ece8"/>
<rect x="606.57" y="483.88" width="1.9" height="1.32" fill="#d8ece8"/>
<rect x="608.13" y="484.20" width="1.9" height="1.00" fill="#d8ece8"/>
<rect x="609.70" y="484.20" width="1.9" height="1.00" fill="#22a7a3"/>
<rect x="611.27" y="484.20" width="1.9" height="1.00" fill="#22a7a3"/>
<rect x="612.83" y="484.20" width="1.9" height="1.00" fill="#22a7a3"/>
<rect x="614.40" y="484.20" width="1.9" height="1.00" fill="#22a7a3"/>
<rect x="615.97" y="484.20" width="1.9" height="1.00" fill="#22a7a3"/>
<rect x="617.53" y="484.20" width="1.9" height="1.00" fill="#22a7a3"/>
<rect x="619.10" y="484.15" width="1.9" height="1.05" fill="#22a7a3"/>
<rect x="620.67" y="482.58" width="1.9" height="2.62" fill="#22a7a3"/>
<rect x="622.24" y="481.09" width="1.9" height="4.11" fill="#d8ece8"/>
<rect x="623.80" y="480.20" width="1.9" height="5.00" fill="#d8ece8"/>
<rect x="625.37" y="479.30" width="1.9" height="5.90" fill="#22a7a3"/>
<rect x="626.94" y="478.41" width="1.9" height="6.79" fill="#22a7a3"/>
<rect x="628.50" y="477.51" width="1.9" height="7.69" fill="#d8ece8"/>
<rect x="630.07" y="477.03" width="1.9" height="8.17" fill="#22a7a3"/>
<rect x="631.64" y="476.77" width="1.9" height="8.43" fill="#22a7a3"/>
<rect x="633.20" y="476.51" width="1.9" height="8.69" fill="#d8ece8"/>
<rect x="634.77" y="476.25" width="1.9" height="8.95" fill="#22a7a3"/>
<rect x="636.34" y="476.20" width="1.9" height="9.00" fill="#22a7a3"/>
<rect x="637.91" y="476.20" width="1.9" height="9.00" fill="#22a7a3"/>
<rect x="639.47" y="476.20" width="1.9" height="9.00" fill="#d8ece8"/>
<rect x="641.04" y="476.20" width="1.9" height="9.00" fill="#d8ece8"/>
<rect x="642.61" y="476.72" width="1.9" height="8.48" fill="#d8ece8"/>
<rect x="644.17" y="477.27" width="1.9" height="7.93" fill="#d8ece8"/>
<rect x="645.74" y="478.17" width="1.9" height="7.03" fill="#d8ece8"/>
<rect x="647.31" y="479.06" width="1.9" height="6.14" fill="#d8ece8"/>
<rect x="648.88" y="479.96" width="1.9" height="5.24" fill="#d8ece8"/>
<rect x="650.44" y="480.85" width="1.9" height="4.35" fill="#d8ece8"/>
<rect x="652.01" y="481.68" width="1.9" height="3.52" fill="#d8ece8"/>
<rect x="653.58" y="482.46" width="1.9" height="2.74" fill="#d8ece8"/>
<rect x="655.14" y="483.25" width="1.9" height="1.95" fill="#d8ece8"/>
<rect x="656.71" y="484.03" width="1.9" height="1.17" fill="#d8ece8"/>
<rect x="658.28" y="484.81" width="1.9" height="0.39" fill="#d8ece8"/>
<rect x="659.84" y="485.20" width="1.9" height="0.60" fill="#ff5a52"/>
<rect x="661.41" y="485.20" width="1.9" height="1.47" fill="#ffcfd0"/>
<rect x="662.98" y="485.20" width="1.9" height="1.34" fill="#ffcfd0"/>
<rect x="664.54" y="485.20" width="1.9" height="1.21" fill="#ffcfd0"/>
<rect x="666.11" y="485.20" width="1.9" height="1.08" fill="#ff5a52"/>
<rect x="667.68" y="485.20" width="1.9" height="0.69" fill="#ff5a52"/>
<rect x="669.25" y="485.20" width="1.9" height="0.13" fill="#ffcfd0"/>
<rect x="670.81" y="485.20" width="1.9" height="1.18" fill="#ff5a52"/>
<rect x="672.38" y="485.20" width="1.9" height="2.09" fill="#ff5a52"/>
<rect x="673.95" y="485.20" width="1.9" height="2.54" fill="#ff5a52"/>
<rect x="675.51" y="485.20" width="1.9" height="2.99" fill="#ff5a52"/>
<rect x="677.08" y="485.20" width="1.9" height="3.44" fill="#ffcfd0"/>
<rect x="678.65" y="485.20" width="1.9" height="3.89" fill="#ff5a52"/>
<rect x="680.21" y="485.20" width="1.9" height="4.70" fill="#ff5a52"/>
<rect x="681.78" y="485.20" width="1.9" height="5.64" fill="#ffcfd0"/>
<rect x="683.35" y="485.20" width="1.9" height="6.58" fill="#ff5a52"/>
<rect x="684.92" y="485.20" width="1.9" height="7.58" fill="#ff5a52"/>
<rect x="686.48" y="485.20" width="1.9" height="8.62" fill="#ff5a52"/>
<rect x="688.05" y="485.20" width="1.9" height="7.00" fill="#ffcfd0"/>
<polyline fill="none" stroke="#d9553d" stroke-width="1.15" stroke-linejoin="round" points="0,491.5 4.7,492.5 11.8,500.7 20.1,510.2 26,514.3 35.5,512 47.3,504.3 55.6,498.4 63.8,497.2 70.9,488.9 75.6,484.2 80,481.8 88.2,483.8 97.7,490 107.2,495.4 115.4,500.9 120.9,511.8 127.7,520 134.5,524.7 139.9,522.7 145.4,513.1 152.2,495.4 157.7,485.9 162,480 170,478.5 176,477 186,477 193,484 199,487 203,485 209,477 215,472 220,477 226,485 230,486 236,482 240,482.2 253.6,483 260.4,489 267.2,495.9 274,500 282.2,497.9 287.7,501.3 294.5,506.8 302.7,513.6 310.8,509.5 320,511.7 325.9,504.6 334.2,494 342.5,483.4 349.6,476.3 359,472.7 369.6,474.5 376.7,478.6 383.8,479.8 390.9,475.1 398,469.2 405.1,466.2 412.2,467.4 420,471.5 425,471.5 429.9,469.7 439.2,457.2 446.2,450.2 453.8,444.4 457.8,445.3 463.1,449.6 470,461.5 475.9,470.4 483,476.3 488.9,481 494.8,488.1 499.6,492.8 505.5,494.6 511.4,494 518.5,489.3 524.4,484.6 530.3,475.1 537.4,470.4 545.7,468.6 552.7,471.5 559.8,481 565.7,491.6 570,499.9 578.4,506.6 590.9,512.9 604.9,507.3 616,505.2 625.8,503.8 634.2,495.4 642.5,484.3 650.9,475.9 657.9,471 667.6,472.4 676,476.6 683,482.2 687.2,487.1 689,490"/>
<polyline fill="none" stroke="#1f78dc" stroke-width="1.15" stroke-linejoin="round" points="0,492.5 1.2,493.6 8.3,501.9 13,510.2 18.3,518.5 24.8,516.7 29,512.6 35.5,510.2 41.4,504.3 48.5,497.2 54.4,495.4 61.5,496.6 65,498.4 68.6,487.7 72.1,474.7 76.8,479.5 80,481.1 85.4,483.2 92.3,488.6 97.7,492.7 104.5,495.4 112.7,503.6 116.8,513.1 123.6,524 131.8,530.2 137.2,521.3 144,498.1 149.5,477.7 153.6,477 160,475 165,479 169,476.5 172,475 176,476 180,477 186,477 190,485 194,488 198,496 200,488 204,479 208,470 212,468 215,469 217,475 220,485 224,492 227,488 230,482 234,479 238,479.5 240,483.6 245.4,481.6 252.3,482.2 256.3,485 261.8,494.5 267.2,501.3 272.7,503.4 278.1,497.2 282.2,496.6 286.3,504 291.8,508.1 300,517 305.4,509.5 309.5,506.8 314.9,512.2 320,512.9 323.5,505.8 327.1,498.7 329.5,498.1 333,490.5 337.7,481 343.6,473.9 348.4,472.1 354.3,470.4 357.8,472.1 360.2,471 364.9,473.9 368.5,474.5 372,479.8 374.4,482.2 379.1,481 383.8,479.8 388.6,471 393.3,469.8 399.2,462.7 403.9,464.5 409.8,469.2 415.7,473.9 420,474.5 422,473 425.8,470 431.6,462.4 438,450.2 442.1,447.9 447.4,441.5 448.5,440.4 452,441.5 454.9,443.8 460.7,452.6 464.8,461.3 470,471.5 474.7,476.9 480.6,477.5 483,478.6 486.5,485.7 491.3,491.6 497.2,497 501.9,498.1 507.8,494.6 514.9,489.3 520.8,481 525.6,472.7 529.1,467.4 533.8,466.8 537.4,466.8 539.7,469.2 544.5,469.2 548,471.5 552.7,478.6 557.5,485.7 562.2,501.1 566.9,504.6 570,508.2 575.6,508.7 582.6,510.8 590.9,515.7 595.1,513.6 603.5,504.5 611.8,504.5 620.2,503.8 624.4,502.4 631.4,494 635.6,484.3 642.5,474.5 649.5,469 653.7,468.2 659.3,470.3 664.8,474.5 670.4,474.5 676,479.4 680.2,481.5 684.4,488.5 688.5,496.1"/>
<line x1="0" y1="435.5" x2="932" y2="435.5" stroke="#8e8c9a" stroke-width="1.1"/>
<line x1="0" y1="535.5" x2="900.5" y2="535.5" stroke="#8e8c9a" stroke-width="1.1"/>
<line x1="900.5" y1="0" x2="900.5" y2="550" stroke="#8e8c9a" stroke-width="1.1"/>
<line x1="900.5" y1="3.80" x2="902.5" y2="3.80" stroke="#8e8c9a" stroke-width="1"/>
<text x="904.9" y="6.8" font-family="Liberation Sans, sans-serif" font-size="6.7" fill="#d8d6e0" stroke="#d8d6e0" stroke-width="0.18" text-anchor="start" font-weight="normal" textLength="19.80" lengthAdjust="spacingAndGlyphs">1.12800</text>
<line x1="900.5" y1="22.85" x2="902.5" y2="22.85" stroke="#8e8c9a" stroke-width="1"/>
<text x="904.9" y="25.85000000000002" font-family="Liberation Sans, sans-serif" font-size="6.7" fill="#d8d6e0" stroke="#d8d6e0" stroke-width="0.18" text-anchor="start" font-weight="normal" textLength="19.80" lengthAdjust="spacingAndGlyphs">1.12600</text>
<line x1="900.5" y1="41.90" x2="902.5" y2="41.90" stroke="#8e8c9a" stroke-width="1"/>
<text x="904.9" y="44.900000000000034" font-family="Liberation Sans, sans-serif" font-size="6.7" fill="#d8d6e0" stroke="#d8d6e0" stroke-width="0.18" text-anchor="start" font-weight="normal" textLength="19.80" lengthAdjust="spacingAndGlyphs">1.12400</text>
<line x1="900.5" y1="60.95" x2="902.5" y2="60.95" stroke="#8e8c9a" stroke-width="1"/>
<text x="904.9" y="63.95000000000005" font-family="Liberation Sans, sans-serif" font-size="6.7" fill="#d8d6e0" stroke="#d8d6e0" stroke-width="0.18" text-anchor="start" font-weight="normal" textLength="19.80" lengthAdjust="spacingAndGlyphs">1.12200</text>
<line x1="900.5" y1="80.00" x2="902.5" y2="80.00" stroke="#8e8c9a" stroke-width="1"/>
<text x="904.9" y="83.00000000000007" font-family="Liberation Sans, sans-serif" font-size="6.7" fill="#d8d6e0" stroke="#d8d6e0" stroke-width="0.18" text-anchor="start" font-weight="normal" textLength="19.80" lengthAdjust="spacingAndGlyphs">1.12000</text>
<line x1="900.5" y1="99.05" x2="902.5" y2="99.05" stroke="#8e8c9a" stroke-width="1"/>
<line x1="900.5" y1="118.10" x2="902.5" y2="118.10" stroke="#8e8c9a" stroke-width="1"/>
<text x="904.9" y="121.10000000000011" font-family="Liberation Sans, sans-serif" font-size="6.7" fill="#d8d6e0" stroke="#d8d6e0" stroke-width="0.18" text-anchor="start" font-weight="normal" textLength="19.80" lengthAdjust="spacingAndGlyphs">1.11600</text>
<line x1="900.5" y1="137.15" x2="902.5" y2="137.15" stroke="#8e8c9a" stroke-width="1"/>
<text x="904.9" y="140.15000000000015" font-family="Liberation Sans, sans-serif" font-size="6.7" fill="#d8d6e0" stroke="#d8d6e0" stroke-width="0.18" text-anchor="start" font-weight="normal" textLength="19.80" lengthAdjust="spacingAndGlyphs">1.11400</text>
<line x1="900.5" y1="156.20" x2="902.5" y2="156.20" stroke="#8e8c9a" stroke-width="1"/>
<text x="904.9" y="159.20000000000016" font-family="Liberation Sans, sans-serif" font-size="6.7" fill="#d8d6e0" stroke="#d8d6e0" stroke-width="0.18" text-anchor="start" font-weight="normal" textLength="19.80" lengthAdjust="spacingAndGlyphs">1.11200</text>
<line x1="900.5" y1="175.25" x2="902.5" y2="175.25" stroke="#8e8c9a" stroke-width="1"/>
<line x1="900.5" y1="194.30" x2="902.5" y2="194.30" stroke="#8e8c9a" stroke-width="1"/>
<text x="904.9" y="197.30000000000018" font-family="Liberation Sans, sans-serif" font-size="6.7" fill="#d8d6e0" stroke="#d8d6e0" stroke-width="0.18" text-anchor="start" font-weight="normal" textLength="19.80" lengthAdjust="spacingAndGlyphs">1.10800</text>
<line x1="900.5" y1="213.35" x2="902.5" y2="213.35" stroke="#8e8c9a" stroke-width="1"/>
<text x="904.9" y="216.3500000000002" font-family="Liberation Sans, sans-serif" font-size="6.7" fill="#d8d6e0" stroke="#d8d6e0" stroke-width="0.18" text-anchor="start" font-weight="normal" textLength="19.80" lengthAdjust="spacingAndGlyphs">1.10600</text>
<line x1="900.5" y1="232.40" x2="902.5" y2="232.40" stroke="#8e8c9a" stroke-width="1"/>
<text x="904.9" y="235.40000000000023" font-family="Liberation Sans, sans-serif" font-size="6.7" fill="#d8d6e0" stroke="#d8d6e0" stroke-width="0.18" text-anchor="start" font-weight="normal" textLength="19.80" lengthAdjust="spacingAndGlyphs">1.10400</text>
<line x1="900.5" y1="251.45" x2="902.5" y2="251.45" stroke="#8e8c9a" stroke-width="1"/>
<line x1="900.5" y1="270.50" x2="902.5" y2="270.50" stroke="#8e8c9a" stroke-width="1"/>
<text x="904.9" y="273.5000000000003" font-family="Liberation Sans, sans-serif" font-size="6.7" fill="#d8d6e0" stroke="#d8d6e0" stroke-width="0.18" text-anchor="start" font-weight="normal" textLength="19.80" lengthAdjust="spacingAndGlyphs">1.10000</text>
<line x1="900.5" y1="289.55" x2="902.5" y2="289.55" stroke="#8e8c9a" stroke-width="1"/>
<line x1="900.5" y1="308.60" x2="902.5" y2="308.60" stroke="#8e8c9a" stroke-width="1"/>
<text x="904.9" y="311.6000000000003" font-family="Liberation Sans, sans-serif" font-size="6.7" fill="#d8d6e0" stroke="#d8d6e0" stroke-width="0.18" text-anchor="start" font-weight="normal" textLength="19.80" lengthAdjust="spacingAndGlyphs">1.09600</text>
<line x1="900.5" y1="327.65" x2="902.5" y2="327.65" stroke="#8e8c9a" stroke-width="1"/>
<text x="904.9" y="330.6500000000003" font-family="Liberation Sans, sans-serif" font-size="6.7" fill="#d8d6e0" stroke="#d8d6e0" stroke-width="0.18" text-anchor="start" font-weight="normal" textLength="19.80" lengthAdjust="spacingAndGlyphs">1.09400</text>
<line x1="900.5" y1="346.70" x2="902.5" y2="346.70" stroke="#8e8c9a" stroke-width="1"/>
<text x="904.9" y="349.7000000000003" font-family="Liberation Sans, sans-serif" font-size="6.7" fill="#d8d6e0" stroke="#d8d6e0" stroke-width="0.18" text-anchor="start" font-weight="normal" textLength="19.80" lengthAdjust="spacingAndGlyphs">1.09200</text>
<line x1="900.5" y1="365.75" x2="902.5" y2="365.75" stroke="#8e8c9a" stroke-width="1"/>
<text x="904.9" y="368.75000000000034" font-family="Liberation Sans, sans-serif" font-size="6.7" fill="#d8d6e0" stroke="#d8d6e0" stroke-width="0.18" text-anchor="start" font-weight="normal" textLength="19.80" lengthAdjust="spacingAndGlyphs">1.09000</text>
<line x1="900.5" y1="384.80" x2="902.5" y2="384.80" stroke="#8e8c9a" stroke-width="1"/>
<text x="904.9" y="387.80000000000035" font-family="Liberation Sans, sans-serif" font-size="6.7" fill="#d8d6e0" stroke="#d8d6e0" stroke-width="0.18" text-anchor="start" font-weight="normal" textLength="19.80" lengthAdjust="spacingAndGlyphs">1.08800</text>
<line x1="900.5" y1="403.85" x2="902.5" y2="403.85" stroke="#8e8c9a" stroke-width="1"/>
<text x="904.9" y="406.85000000000036" font-family="Liberation Sans, sans-serif" font-size="6.7" fill="#d8d6e0" stroke="#d8d6e0" stroke-width="0.18" text-anchor="start" font-weight="normal" textLength="19.80" lengthAdjust="spacingAndGlyphs">1.08600</text>
<line x1="900.5" y1="422.90" x2="902.5" y2="422.90" stroke="#8e8c9a" stroke-width="1"/>
<text x="904.9" y="425.9000000000004" font-family="Liberation Sans, sans-serif" font-size="6.7" fill="#d8d6e0" stroke="#d8d6e0" stroke-width="0.18" text-anchor="start" font-weight="normal" textLength="19.80" lengthAdjust="spacingAndGlyphs">1.08400</text>
<line x1="900.5" y1="460.3" x2="902.5" y2="460.3" stroke="#8e8c9a" stroke-width="1"/>
<text x="904.4" y="463.3" font-family="Liberation Sans, sans-serif" font-size="6.7" fill="#d8d6e0" stroke="#d8d6e0" stroke-width="0.18" text-anchor="start" font-weight="normal" textLength="20.00" lengthAdjust="spacingAndGlyphs">0.00200</text>
<line x1="900.5" y1="485.6" x2="902.5" y2="485.6" stroke="#8e8c9a" stroke-width="1"/>
<text x="904.4" y="488.6" font-family="Liberation Sans, sans-serif" font-size="6.7" fill="#d8d6e0" stroke="#d8d6e0" stroke-width="0.18" text-anchor="start" font-weight="normal" textLength="20.00" lengthAdjust="spacingAndGlyphs">0.00000</text>
<line x1="900.5" y1="510.9" x2="902.5" y2="510.9" stroke="#8e8c9a" stroke-width="1"/>
<text x="903.7" y="513.9" font-family="Liberation Sans, sans-serif" font-size="6.7" fill="#d8d6e0" stroke="#d8d6e0" stroke-width="0.18" text-anchor="start" font-weight="normal" textLength="20.70" lengthAdjust="spacingAndGlyphs">−0.00200</text>
<rect x="900" y="94.6" width="29" height="8.800000000000011" fill="#f01414"/>
<text x="905.3" y="101.5" font-family="Liberation Sans, sans-serif" font-size="6.7" fill="#ffffff" stroke="#ffffff" stroke-width="0.18" text-anchor="start" font-weight="normal" textLength="19.40" lengthAdjust="spacingAndGlyphs">1.11800</text>
<rect x="900" y="171" width="29" height="9.199999999999989" fill="#f01414"/>
<text x="905.3" y="178.1" font-family="Liberation Sans, sans-serif" font-size="6.7" fill="#ffffff" stroke="#ffffff" stroke-width="0.18" text-anchor="start" font-weight="normal" textLength="19.40" lengthAdjust="spacingAndGlyphs">1.11000</text>
<rect x="900" y="199.5" width="29" height="9.199999999999989" fill="#1eb0c8"/>
<text x="905.3" y="206.6" font-family="Liberation Sans, sans-serif" font-size="6.7" fill="#ffffff" stroke="#ffffff" stroke-width="0.18" text-anchor="start" font-weight="normal" textLength="19.40" lengthAdjust="spacingAndGlyphs">1.10700</text>
<rect x="900" y="244" width="29" height="9" fill="#f26868"/>
<text x="905.3" y="251.0" font-family="Liberation Sans, sans-serif" font-size="6.7" fill="#ffffff" stroke="#ffffff" stroke-width="0.18" text-anchor="start" font-weight="normal" textLength="19.40" lengthAdjust="spacingAndGlyphs">1.10232</text>
<rect x="900" y="253.5" width="29" height="9.300000000000011" fill="#f26868"/>
<text x="902.9" y="260.65" font-family="Liberation Sans, sans-serif" font-size="6.7" fill="#ffffff" stroke="#ffffff" stroke-width="0.18" text-anchor="start" font-weight="normal" textLength="21.80" lengthAdjust="spacingAndGlyphs">02:38:34</text>
<rect x="900" y="263" width="29" height="9.600000000000023" fill="#18e018"/>
<text x="905.3" y="270.3" font-family="Liberation Sans, sans-serif" font-size="6.7" fill="#0c3a0c" stroke="#0c3a0c" stroke-width="0.18" text-anchor="start" font-weight="normal" textLength="19.40" lengthAdjust="spacingAndGlyphs">1.10200</text>
<rect x="900" y="285.2" width="29" height="9.199999999999989" fill="#18e018"/>
<text x="905.3" y="292.29999999999995" font-family="Liberation Sans, sans-serif" font-size="6.7" fill="#0c3a0c" stroke="#0c3a0c" stroke-width="0.18" text-anchor="start" font-weight="normal" textLength="19.40" lengthAdjust="spacingAndGlyphs">1.09800</text>
<line x1="25.4" y1="535.5" x2="25.4" y2="537.5" stroke="#8e8c9a" stroke-width="1"/>
<text x="25.4" y="545.8" font-family="Liberation Sans, sans-serif" font-size="6.4" fill="#d8d6e0" stroke="#d8d6e0" stroke-width="0.18" text-anchor="middle" font-weight="normal" textLength="5.89" lengthAdjust="spacingAndGlyphs">19</text>
<line x1="72.3" y1="535.5" x2="72.3" y2="537.5" stroke="#8e8c9a" stroke-width="1"/>
<text x="72.3" y="545.8" font-family="Liberation Sans, sans-serif" font-size="6.4" fill="#d8d6e0" stroke="#d8d6e0" stroke-width="0.18" text-anchor="middle" font-weight="normal" textLength="5.89" lengthAdjust="spacingAndGlyphs">26</text>
<line x1="118.4" y1="535.5" x2="118.4" y2="537.5" stroke="#8e8c9a" stroke-width="1"/>
<text x="118.4" y="545.8" font-family="Liberation Sans, sans-serif" font-size="6.4" fill="#d8d6e0" stroke="#d8d6e0" stroke-width="0.18" text-anchor="middle" font-weight="bold" textLength="9.72" lengthAdjust="spacingAndGlyphs">Sep</text>
<line x1="166.7" y1="535.5" x2="166.7" y2="537.5" stroke="#8e8c9a" stroke-width="1"/>
<text x="166.7" y="545.8" font-family="Liberation Sans, sans-serif" font-size="6.4" fill="#d8d6e0" stroke="#d8d6e0" stroke-width="0.18" text-anchor="middle" font-weight="normal" textLength="2.95" lengthAdjust="spacingAndGlyphs">9</text>
<line x1="214.2" y1="535.5" x2="214.2" y2="537.5" stroke="#8e8c9a" stroke-width="1"/>
<text x="214.2" y="545.8" font-family="Liberation Sans, sans-serif" font-size="6.4" fill="#d8d6e0" stroke="#d8d6e0" stroke-width="0.18" text-anchor="middle" font-weight="normal" textLength="5.89" lengthAdjust="spacingAndGlyphs">16</text>
<line x1="261.5" y1="535.5" x2="261.5" y2="537.5" stroke="#8e8c9a" stroke-width="1"/>
<text x="261.5" y="545.8" font-family="Liberation Sans, sans-serif" font-size="6.4" fill="#d8d6e0" stroke="#d8d6e0" stroke-width="0.18" text-anchor="middle" font-weight="normal" textLength="5.89" lengthAdjust="spacingAndGlyphs">23</text>
<line x1="318.3" y1="535.5" x2="318.3" y2="537.5" stroke="#8e8c9a" stroke-width="1"/>
<text x="318.3" y="545.8" font-family="Liberation Sans, sans-serif" font-size="6.4" fill="#d8d6e0" stroke="#d8d6e0" stroke-width="0.18" text-anchor="middle" font-weight="bold" textLength="8.83" lengthAdjust="spacingAndGlyphs">Oct</text>
<line x1="360.9" y1="535.5" x2="360.9" y2="537.5" stroke="#8e8c9a" stroke-width="1"/>
<text x="360.9" y="545.8" font-family="Liberation Sans, sans-serif" font-size="6.4" fill="#d8d6e0" stroke="#d8d6e0" stroke-width="0.18" text-anchor="middle" font-weight="normal" textLength="13.26" lengthAdjust="spacingAndGlyphs">14:00</text>
<line x1="403.5" y1="535.5" x2="403.5" y2="537.5" stroke="#8e8c9a" stroke-width="1"/>
<text x="403.5" y="545.8" font-family="Liberation Sans, sans-serif" font-size="6.4" fill="#d8d6e0" stroke="#d8d6e0" stroke-width="0.18" text-anchor="middle" font-weight="normal" textLength="5.89" lengthAdjust="spacingAndGlyphs">14</text>
<line x1="450.7" y1="535.5" x2="450.7" y2="537.5" stroke="#8e8c9a" stroke-width="1"/>
<text x="450.7" y="545.8" font-family="Liberation Sans, sans-serif" font-size="6.4" fill="#d8d6e0" stroke="#d8d6e0" stroke-width="0.18" text-anchor="middle" font-weight="normal" textLength="5.89" lengthAdjust="spacingAndGlyphs">21</text>
<line x1="496.3" y1="535.5" x2="496.3" y2="537.5" stroke="#8e8c9a" stroke-width="1"/>
<text x="496.3" y="545.8" font-family="Liberation Sans, sans-serif" font-size="6.4" fill="#d8d6e0" stroke="#d8d6e0" stroke-width="0.18" text-anchor="middle" font-weight="normal" textLength="5.89" lengthAdjust="spacingAndGlyphs">27</text>
<line x1="536.2" y1="535.5" x2="536.2" y2="537.5" stroke="#8e8c9a" stroke-width="1"/>
<text x="536.2" y="545.8" font-family="Liberation Sans, sans-serif" font-size="6.4" fill="#d8d6e0" stroke="#d8d6e0" stroke-width="0.18" text-anchor="middle" font-weight="bold" textLength="10.01" lengthAdjust="spacingAndGlyphs">Nov</text>
<line x1="592.7" y1="535.5" x2="592.7" y2="537.5" stroke="#8e8c9a" stroke-width="1"/>
<text x="592.7" y="545.8" font-family="Liberation Sans, sans-serif" font-size="6.4" fill="#d8d6e0" stroke="#d8d6e0" stroke-width="0.18" text-anchor="middle" font-weight="normal" textLength="5.50" lengthAdjust="spacingAndGlyphs">11</text>
<line x1="640.3" y1="535.5" x2="640.3" y2="537.5" stroke="#8e8c9a" stroke-width="1"/>
<text x="640.3" y="545.8" font-family="Liberation Sans, sans-serif" font-size="6.4" fill="#d8d6e0" stroke="#d8d6e0" stroke-width="0.18" text-anchor="middle" font-weight="normal" textLength="5.89" lengthAdjust="spacingAndGlyphs">18</text>
<line x1="687.5" y1="535.5" x2="687.5" y2="537.5" stroke="#8e8c9a" stroke-width="1"/>
<text x="687.5" y="545.8" font-family="Liberation Sans, sans-serif" font-size="6.4" fill="#d8d6e0" stroke="#d8d6e0" stroke-width="0.18" text-anchor="middle" font-weight="normal" textLength="5.89" lengthAdjust="spacingAndGlyphs">25</text>
<line x1="733" y1="535.5" x2="733" y2="537.5" stroke="#8e8c9a" stroke-width="1"/>
<text x="733" y="545.8" font-family="Liberation Sans, sans-serif" font-size="6.4" fill="#d8d6e0" stroke="#d8d6e0" stroke-width="0.18" text-anchor="middle" font-weight="bold" textLength="9.72" lengthAdjust="spacingAndGlyphs">Dec</text>
<line x1="782" y1="535.5" x2="782" y2="537.5" stroke="#8e8c9a" stroke-width="1"/>
<text x="782" y="545.8" font-family="Liberation Sans, sans-serif" font-size="6.4" fill="#d8d6e0" stroke="#d8d6e0" stroke-width="0.18" text-anchor="middle" font-weight="normal" textLength="2.95" lengthAdjust="spacingAndGlyphs">9</text>
<line x1="828.9" y1="535.5" x2="828.9" y2="537.5" stroke="#8e8c9a" stroke-width="1"/>
<text x="828.9" y="545.8" font-family="Liberation Sans, sans-serif" font-size="6.4" fill="#d8d6e0" stroke="#d8d6e0" stroke-width="0.18" text-anchor="middle" font-weight="normal" textLength="5.89" lengthAdjust="spacingAndGlyphs">16</text>
<line x1="876.1" y1="535.5" x2="876.1" y2="537.5" stroke="#8e8c9a" stroke-width="1"/>
<text x="876.1" y="545.8" font-family="Liberation Sans, sans-serif" font-size="6.4" fill="#d8d6e0" stroke="#d8d6e0" stroke-width="0.18" text-anchor="middle" font-weight="normal" textLength="5.89" lengthAdjust="spacingAndGlyphs">23</text>
<text x="4.3" y="11.6" font-family="Liberation Sans, sans-serif" font-size="7.1" fill="#d8d6e0" stroke="#d8d6e0" stroke-width="0.18" text-anchor="start" font-weight="normal" textLength="86.90" lengthAdjust="spacingAndGlyphs">Euro / U.S. Dollar, 240, FXCM</text>
<text x="4.3" y="20.6" font-family="Liberation Sans, sans-serif" font-size="7.1" fill="#d8d6e0" stroke="#d8d6e0" stroke-width="0.18" text-anchor="start" font-weight="normal" textLength="9.78" lengthAdjust="spacingAndGlyphs">MA</text>
<text x="3.8" y="447.3" font-family="Liberation Sans, sans-serif" font-size="7.1" fill="#d8d6e0" stroke="#d8d6e0" stroke-width="0.18" text-anchor="start" font-weight="normal" textLength="18.70" lengthAdjust="spacingAndGlyphs">MACD</text></svg></body></html>
